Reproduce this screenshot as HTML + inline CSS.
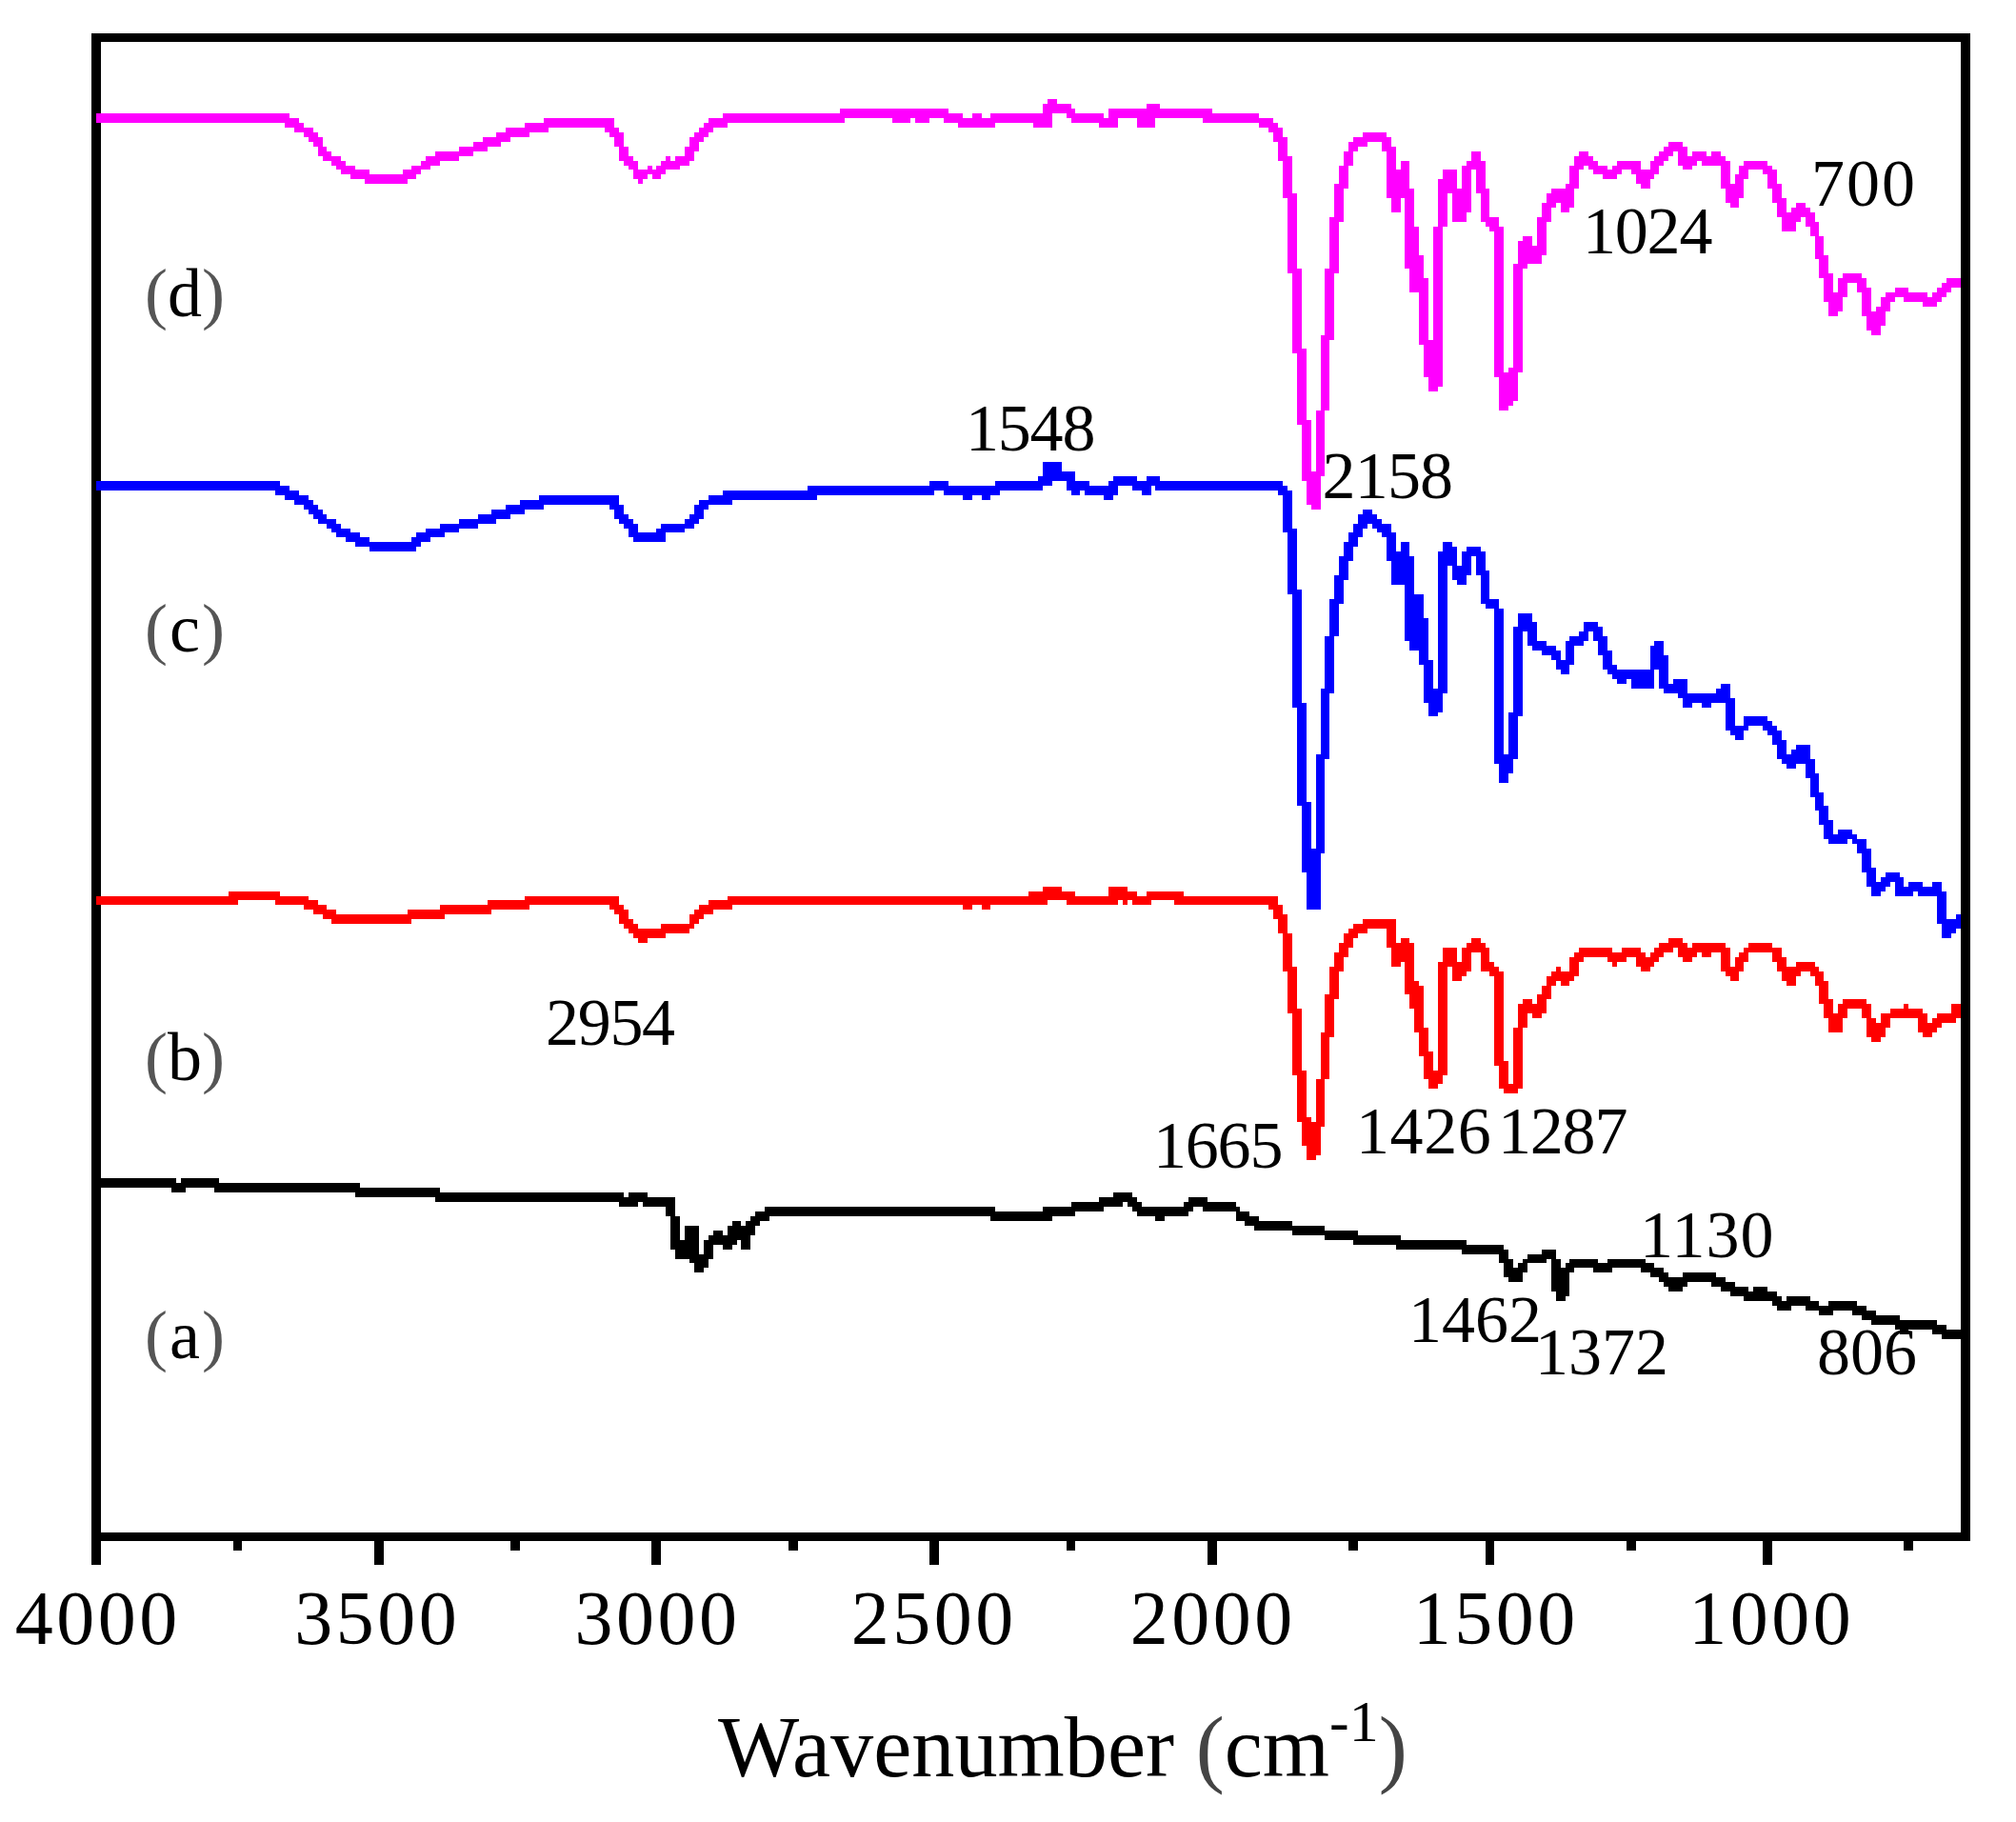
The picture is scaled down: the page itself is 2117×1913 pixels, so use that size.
<!DOCTYPE html>
<html><head><meta charset="utf-8"><title>FTIR spectra</title>
<style>
html,body{margin:0;padding:0;background:#fff}
body{width:2117px;height:1913px;overflow:hidden}
svg{display:block}
text{font-family:"Liberation Serif","DejaVu Serif",serif;fill:#000}
</style></head><body>
<svg width="2117" height="1913" viewBox="0 0 2117 1913">
<rect width="2117" height="1913" fill="#fff"/>
<g shape-rendering="crispEdges">
<path fill="#000" d="M96.2 34.8H105.8V1642.5H96.2ZM96.2 34.8H2068.5V44.3H96.2ZM2058.8 34.8H2068.5V1618.0H2058.8ZM96.2 1608.5H2068.5V1618.0H96.2ZM393.0 1610.0H402.5V1642.5H393.0ZM684.0 1610.0H694.0V1642.5H684.0ZM976.0 1610.0H986.0V1642.5H976.0ZM1267.5 1610.0H1277.5V1642.5H1267.5ZM1559.5 1610.0H1569.0V1642.5H1559.5ZM1851.0 1610.0H1861.0V1642.5H1851.0ZM244.5 1610.0H254.0V1628.0H244.5ZM536.0 1610.0H546.0V1628.0H536.0ZM828.0 1610.0H837.5V1628.0H828.0ZM1119.5 1610.0H1129.0V1628.0H1119.5ZM1415.8 1610.0H1425.8V1628.0H1415.8ZM1707.5 1610.0H1717.5V1628.0H1707.5ZM1999.0 1610.0H2009.0V1628.0H1999.0Z"/>
<path fill="#000" d="M101.2 1237.4H106.1V1247.3H101.2ZM106.1 1237.4H111.1V1247.3H106.1ZM111.1 1237.4H116.0V1247.3H111.1ZM116.0 1237.4H121.0V1247.3H116.0ZM121.0 1237.4H125.9V1247.3H121.0ZM125.9 1237.4H130.9V1247.3H125.9ZM130.9 1237.4H135.8V1247.3H130.9ZM135.8 1237.4H140.7V1247.3H135.8ZM140.7 1237.4H145.7V1247.3H140.7ZM145.7 1237.4H150.6V1247.3H145.7ZM150.6 1237.4H155.6V1247.3H150.6ZM155.6 1237.4H160.5V1247.3H155.6ZM160.5 1237.4H165.5V1247.3H160.5ZM165.5 1237.4H170.4V1247.3H165.5ZM170.4 1237.4H175.3V1247.3H170.4ZM175.3 1237.4H180.3V1247.3H175.3ZM180.3 1237.4H185.2V1252.2H180.3ZM185.2 1242.3H190.2V1252.2H185.2ZM190.2 1237.4H195.1V1252.2H190.2ZM195.1 1237.4H200.1V1247.3H195.1ZM200.1 1237.4H205.0V1247.3H200.1ZM205.0 1237.4H209.9V1247.3H205.0ZM209.9 1237.4H214.9V1247.3H209.9ZM214.9 1237.4H219.8V1247.3H214.9ZM219.8 1237.4H224.8V1247.3H219.8ZM224.8 1237.4H229.7V1252.2H224.8ZM229.7 1242.3H234.7V1252.2H229.7ZM234.7 1242.3H239.6V1252.2H234.7ZM239.6 1242.3H244.6V1252.2H239.6ZM244.6 1242.3H249.5V1252.2H244.6ZM249.5 1242.3H254.4V1252.2H249.5ZM254.4 1242.3H259.4V1252.2H254.4ZM259.4 1242.3H264.3V1252.2H259.4ZM264.3 1242.3H269.3V1252.2H264.3ZM269.3 1242.3H274.2V1252.2H269.3ZM274.2 1242.3H279.2V1252.2H274.2ZM279.2 1242.3H284.1V1252.2H279.2ZM284.1 1242.3H289.0V1252.2H284.1ZM289.0 1242.3H294.0V1252.2H289.0ZM294.0 1242.3H298.9V1252.2H294.0ZM298.9 1242.3H303.9V1252.2H298.9ZM303.9 1242.3H308.8V1252.2H303.9ZM308.8 1242.3H313.8V1252.2H308.8ZM313.8 1242.3H318.7V1252.2H313.8ZM318.7 1242.3H323.6V1252.2H318.7ZM323.6 1242.3H328.6V1252.2H323.6ZM328.6 1242.3H333.5V1252.2H328.6ZM333.5 1242.3H338.5V1252.2H333.5ZM338.5 1242.3H343.4V1252.2H338.5ZM343.4 1242.3H348.4V1252.2H343.4ZM348.4 1242.3H353.3V1252.2H348.4ZM353.3 1242.3H358.2V1252.2H353.3ZM358.2 1242.3H363.2V1252.2H358.2ZM363.2 1242.3H368.1V1252.2H363.2ZM368.1 1242.3H373.1V1252.2H368.1ZM373.1 1242.3H378.0V1257.2H373.1ZM378.0 1247.3H383.0V1257.2H378.0ZM383.0 1247.3H387.9V1257.2H383.0ZM387.9 1247.3H392.9V1257.2H387.9ZM392.9 1247.3H397.8V1257.2H392.9ZM397.8 1247.3H402.7V1257.2H397.8ZM402.7 1247.3H407.7V1257.2H402.7ZM407.7 1247.3H412.6V1257.2H407.7ZM412.6 1247.3H417.6V1257.2H412.6ZM417.6 1247.3H422.5V1257.2H417.6ZM422.5 1247.3H427.5V1257.2H422.5ZM427.5 1247.3H432.4V1257.2H427.5ZM432.4 1247.3H437.3V1257.2H432.4ZM437.3 1247.3H442.3V1257.2H437.3ZM442.3 1247.3H447.2V1257.2H442.3ZM447.2 1247.3H452.2V1257.2H447.2ZM452.2 1247.3H457.1V1257.2H452.2ZM457.1 1247.3H462.1V1262.1H457.1ZM462.1 1252.2H467.0V1262.1H462.1ZM467.0 1252.2H471.9V1262.1H467.0ZM471.9 1252.2H476.9V1262.1H471.9ZM476.9 1252.2H481.8V1262.1H476.9ZM481.8 1252.2H486.8V1262.1H481.8ZM486.8 1252.2H491.7V1262.1H486.8ZM491.7 1252.2H496.7V1262.1H491.7ZM496.7 1252.2H501.6V1262.1H496.7ZM501.6 1252.2H506.5V1262.1H501.6ZM506.5 1252.2H511.5V1262.1H506.5ZM511.5 1252.2H516.4V1262.1H511.5ZM516.4 1252.2H521.4V1262.1H516.4ZM521.4 1252.2H526.3V1262.1H521.4ZM526.3 1252.2H531.3V1262.1H526.3ZM531.3 1252.2H536.2V1262.1H531.3ZM536.2 1252.2H541.1V1262.1H536.2ZM541.1 1252.2H546.1V1262.1H541.1ZM546.1 1252.2H551.0V1262.1H546.1ZM551.0 1252.2H556.0V1262.1H551.0ZM556.0 1252.2H560.9V1262.1H556.0ZM560.9 1252.2H565.9V1262.1H560.9ZM565.9 1252.2H570.8V1262.1H565.9ZM570.8 1252.2H575.8V1262.1H570.8ZM575.8 1252.2H580.7V1262.1H575.8ZM580.7 1252.2H585.6V1262.1H580.7ZM585.6 1252.2H590.6V1262.1H585.6ZM590.6 1252.2H595.5V1262.1H590.6ZM595.5 1252.2H600.5V1262.1H595.5ZM600.5 1252.2H605.4V1262.1H600.5ZM605.4 1252.2H610.4V1262.1H605.4ZM610.4 1252.2H615.3V1262.1H610.4ZM615.3 1252.2H620.2V1262.1H615.3ZM620.2 1252.2H625.2V1262.1H620.2ZM625.2 1252.2H630.1V1262.1H625.2ZM630.1 1252.2H635.1V1262.1H630.1ZM635.1 1252.2H640.0V1262.1H635.1ZM640.0 1252.2H645.0V1262.1H640.0ZM645.0 1252.2H649.9V1262.1H645.0ZM649.9 1252.2H654.8V1267.1H649.9ZM654.8 1257.2H659.8V1267.1H654.8ZM659.8 1252.2H664.7V1267.1H659.8ZM664.7 1252.2H669.7V1267.1H664.7ZM669.7 1252.2H674.6V1262.1H669.7ZM674.6 1252.2H679.6V1267.1H674.6ZM679.6 1257.2H684.5V1267.1H679.6ZM684.5 1257.2H689.4V1267.1H684.5ZM689.4 1257.2H694.4V1267.1H689.4ZM694.4 1257.2H699.3V1267.1H694.4ZM699.3 1257.2H704.3V1276.9H699.3ZM704.3 1257.2H709.2V1311.6H704.3ZM709.2 1276.9H714.2V1321.5H709.2ZM714.2 1301.7H719.1V1321.5H714.2ZM719.1 1286.8H724.1V1321.5H719.1ZM724.1 1286.8H729.0V1326.4H724.1ZM729.0 1286.8H733.9V1336.3H729.0ZM733.9 1316.5H738.9V1336.3H733.9ZM738.9 1301.7H743.8V1331.4H738.9ZM743.8 1296.7H748.8V1321.5H743.8ZM748.8 1291.8H753.7V1306.6H748.8ZM753.7 1291.8H758.7V1306.6H753.7ZM758.7 1296.7H763.6V1311.6H758.7ZM763.6 1286.8H768.5V1311.6H763.6ZM768.5 1281.9H773.5V1306.6H768.5ZM773.5 1281.9H778.4V1301.7H773.5ZM778.4 1286.8H783.4V1311.6H778.4ZM783.4 1281.9H788.3V1311.6H783.4ZM788.3 1276.9H793.3V1296.7H788.3ZM793.3 1272.0H798.2V1286.8H793.3ZM798.2 1272.0H803.1V1281.9H798.2ZM803.1 1267.1H808.1V1281.9H803.1ZM808.1 1267.1H813.0V1276.9H808.1ZM813.0 1267.1H818.0V1276.9H813.0ZM818.0 1267.1H822.9V1276.9H818.0ZM822.9 1267.1H827.9V1276.9H822.9ZM827.9 1267.1H832.8V1276.9H827.9ZM832.8 1267.1H837.7V1276.9H832.8ZM837.7 1267.1H842.7V1276.9H837.7ZM842.7 1267.1H847.6V1276.9H842.7ZM847.6 1267.1H852.6V1276.9H847.6ZM852.6 1267.1H857.5V1276.9H852.6ZM857.5 1267.1H862.5V1276.9H857.5ZM862.5 1267.1H867.4V1276.9H862.5ZM867.4 1267.1H872.4V1276.9H867.4ZM872.4 1267.1H877.3V1276.9H872.4ZM877.3 1267.1H882.2V1276.9H877.3ZM882.2 1267.1H887.2V1276.9H882.2ZM887.2 1267.1H892.1V1276.9H887.2ZM892.1 1267.1H897.1V1276.9H892.1ZM897.1 1267.1H902.0V1276.9H897.1ZM902.0 1267.1H907.0V1276.9H902.0ZM907.0 1267.1H911.9V1276.9H907.0ZM911.9 1267.1H916.8V1276.9H911.9ZM916.8 1267.1H921.8V1276.9H916.8ZM921.8 1267.1H926.7V1276.9H921.8ZM926.7 1267.1H931.7V1276.9H926.7ZM931.7 1267.1H936.6V1276.9H931.7ZM936.6 1267.1H941.6V1276.9H936.6ZM941.6 1267.1H946.5V1276.9H941.6ZM946.5 1267.1H951.4V1276.9H946.5ZM951.4 1267.1H956.4V1276.9H951.4ZM956.4 1267.1H961.3V1276.9H956.4ZM961.3 1267.1H966.3V1276.9H961.3ZM966.3 1267.1H971.2V1276.9H966.3ZM971.2 1267.1H976.2V1276.9H971.2ZM976.2 1267.1H981.1V1276.9H976.2ZM981.1 1267.1H986.0V1276.9H981.1ZM986.0 1267.1H991.0V1276.9H986.0ZM991.0 1267.1H995.9V1276.9H991.0ZM995.9 1267.1H1000.9V1276.9H995.9ZM1000.9 1267.1H1005.8V1276.9H1000.9ZM1005.8 1267.1H1010.8V1276.9H1005.8ZM1010.8 1267.1H1015.7V1276.9H1010.8ZM1015.7 1267.1H1020.6V1276.9H1015.7ZM1020.6 1267.1H1025.6V1276.9H1020.6ZM1025.6 1267.1H1030.5V1276.9H1025.6ZM1030.5 1267.1H1035.5V1276.9H1030.5ZM1035.5 1267.1H1040.4V1276.9H1035.5ZM1040.4 1267.1H1045.4V1281.9H1040.4ZM1045.4 1272.0H1050.3V1281.9H1045.4ZM1050.3 1272.0H1055.3V1281.9H1050.3ZM1055.3 1272.0H1060.2V1281.9H1055.3ZM1060.2 1272.0H1065.1V1281.9H1060.2ZM1065.1 1272.0H1070.1V1281.9H1065.1ZM1070.1 1272.0H1075.0V1281.9H1070.1ZM1075.0 1272.0H1080.0V1281.9H1075.0ZM1080.0 1272.0H1084.9V1281.9H1080.0ZM1084.9 1272.0H1089.9V1281.9H1084.9ZM1089.9 1272.0H1094.8V1281.9H1089.9ZM1094.8 1267.1H1099.7V1281.9H1094.8ZM1099.7 1267.1H1104.7V1281.9H1099.7ZM1104.7 1267.1H1109.6V1276.9H1104.7ZM1109.6 1267.1H1114.6V1276.9H1109.6ZM1114.6 1267.1H1119.5V1276.9H1114.6ZM1119.5 1267.1H1124.5V1276.9H1119.5ZM1124.5 1262.1H1129.4V1276.9H1124.5ZM1129.4 1262.1H1134.3V1272.0H1129.4ZM1134.3 1262.1H1139.3V1272.0H1134.3ZM1139.3 1262.1H1144.2V1272.0H1139.3ZM1144.2 1262.1H1149.2V1272.0H1144.2ZM1149.2 1262.1H1154.1V1272.0H1149.2ZM1154.1 1257.2H1159.1V1272.0H1154.1ZM1159.1 1257.2H1164.0V1267.1H1159.1ZM1164.0 1257.2H1168.9V1267.1H1164.0ZM1168.9 1252.2H1173.9V1267.1H1168.9ZM1173.9 1252.2H1178.8V1267.1H1173.9ZM1178.8 1252.2H1183.8V1262.1H1178.8ZM1183.8 1252.2H1188.7V1267.1H1183.8ZM1188.7 1257.2H1193.7V1272.0H1188.7ZM1193.7 1262.1H1198.6V1276.9H1193.7ZM1198.6 1267.1H1203.6V1276.9H1198.6ZM1203.6 1267.1H1208.5V1276.9H1203.6ZM1208.5 1267.1H1213.4V1276.9H1208.5ZM1213.4 1267.1H1218.4V1281.9H1213.4ZM1218.4 1267.1H1223.3V1281.9H1218.4ZM1223.3 1267.1H1228.3V1276.9H1223.3ZM1228.3 1267.1H1233.2V1276.9H1228.3ZM1233.2 1267.1H1238.2V1276.9H1233.2ZM1238.2 1267.1H1243.1V1276.9H1238.2ZM1243.1 1262.1H1248.0V1276.9H1243.1ZM1248.0 1257.2H1253.0V1272.0H1248.0ZM1253.0 1257.2H1257.9V1267.1H1253.0ZM1257.9 1257.2H1262.9V1267.1H1257.9ZM1262.9 1257.2H1267.8V1272.0H1262.9ZM1267.8 1262.1H1272.8V1272.0H1267.8ZM1272.8 1262.1H1277.7V1272.0H1272.8ZM1277.7 1262.1H1282.6V1272.0H1277.7ZM1282.6 1262.1H1287.6V1272.0H1282.6ZM1287.6 1262.1H1292.5V1272.0H1287.6ZM1292.5 1262.1H1297.5V1272.0H1292.5ZM1297.5 1267.1H1302.4V1281.9H1297.5ZM1302.4 1272.0H1307.4V1281.9H1302.4ZM1307.4 1272.0H1312.3V1286.8H1307.4ZM1312.3 1276.9H1317.2V1286.8H1312.3ZM1317.2 1276.9H1322.2V1291.8H1317.2ZM1322.2 1281.9H1327.1V1291.8H1322.2ZM1327.1 1281.9H1332.1V1291.8H1327.1ZM1332.1 1281.9H1337.0V1291.8H1332.1ZM1337.0 1281.9H1342.0V1291.8H1337.0ZM1342.0 1281.9H1346.9V1291.8H1342.0ZM1346.9 1281.9H1351.9V1291.8H1346.9ZM1351.9 1281.9H1356.8V1291.8H1351.9ZM1356.8 1286.8H1361.7V1296.7H1356.8ZM1361.7 1286.8H1366.7V1296.7H1361.7ZM1366.7 1286.8H1371.6V1296.7H1366.7ZM1371.6 1286.8H1376.6V1296.7H1371.6ZM1376.6 1286.8H1381.5V1296.7H1376.6ZM1381.5 1286.8H1386.5V1296.7H1381.5ZM1386.5 1286.8H1391.4V1296.7H1386.5ZM1391.4 1291.8H1396.3V1301.7H1391.4ZM1396.3 1291.8H1401.3V1301.7H1396.3ZM1401.3 1291.8H1406.2V1301.7H1401.3ZM1406.2 1291.8H1411.2V1301.7H1406.2ZM1411.2 1291.8H1416.1V1301.7H1411.2ZM1416.1 1291.8H1421.1V1301.7H1416.1ZM1421.1 1291.8H1426.0V1306.6H1421.1ZM1426.0 1296.7H1430.9V1306.6H1426.0ZM1430.9 1296.7H1435.9V1306.6H1430.9ZM1435.9 1296.7H1440.8V1306.6H1435.9ZM1440.8 1296.7H1445.8V1306.6H1440.8ZM1445.8 1296.7H1450.7V1306.6H1445.8ZM1450.7 1296.7H1455.7V1306.6H1450.7ZM1455.7 1296.7H1460.6V1306.6H1455.7ZM1460.6 1296.7H1465.5V1306.6H1460.6ZM1465.5 1296.7H1470.5V1311.6H1465.5ZM1470.5 1301.7H1475.4V1311.6H1470.5ZM1475.4 1301.7H1480.4V1311.6H1475.4ZM1480.4 1301.7H1485.3V1311.6H1480.4ZM1485.3 1301.7H1490.3V1311.6H1485.3ZM1490.3 1301.7H1495.2V1311.6H1490.3ZM1495.2 1301.7H1500.1V1311.6H1495.2ZM1500.1 1301.7H1505.1V1311.6H1500.1ZM1505.1 1301.7H1510.0V1311.6H1505.1ZM1510.0 1301.7H1515.0V1311.6H1510.0ZM1515.0 1301.7H1519.9V1311.6H1515.0ZM1519.9 1301.7H1524.9V1311.6H1519.9ZM1524.9 1301.7H1529.8V1311.6H1524.9ZM1529.8 1301.7H1534.8V1311.6H1529.8ZM1534.8 1301.7H1539.7V1316.5H1534.8ZM1539.7 1306.6H1544.6V1316.5H1539.7ZM1544.6 1306.6H1549.6V1316.5H1544.6ZM1549.6 1306.6H1554.5V1316.5H1549.6ZM1554.5 1306.6H1559.5V1316.5H1554.5ZM1559.5 1306.6H1564.4V1316.5H1559.5ZM1564.4 1306.6H1569.4V1316.5H1564.4ZM1569.4 1306.6H1574.3V1316.5H1569.4ZM1574.3 1306.6H1579.2V1326.4H1574.3ZM1579.2 1311.6H1584.2V1341.3H1579.2ZM1584.2 1321.5H1589.1V1346.2H1584.2ZM1589.1 1331.4H1594.1V1346.2H1589.1ZM1594.1 1326.4H1599.0V1346.2H1594.1ZM1599.0 1321.5H1604.0V1336.3H1599.0ZM1604.0 1316.5H1608.9V1326.4H1604.0ZM1608.9 1316.5H1613.8V1326.4H1608.9ZM1613.8 1316.5H1618.8V1326.4H1613.8ZM1618.8 1311.6H1623.7V1326.4H1618.8ZM1623.7 1311.6H1628.7V1321.5H1623.7ZM1628.7 1311.6H1633.6V1356.1H1628.7ZM1633.6 1321.5H1638.6V1366.0H1633.6ZM1638.6 1331.4H1643.5V1366.0H1638.6ZM1643.5 1326.4H1648.4V1361.1H1643.5ZM1648.4 1321.5H1653.4V1336.3H1648.4ZM1653.4 1321.5H1658.3V1331.4H1653.4ZM1658.3 1321.5H1663.3V1331.4H1658.3ZM1663.3 1321.5H1668.2V1331.4H1663.3ZM1668.2 1321.5H1673.2V1331.4H1668.2ZM1673.2 1321.5H1678.1V1336.3H1673.2ZM1678.1 1326.4H1683.1V1336.3H1678.1ZM1683.1 1326.4H1688.0V1336.3H1683.1ZM1688.0 1321.5H1692.9V1336.3H1688.0ZM1692.9 1321.5H1697.9V1331.4H1692.9ZM1697.9 1321.5H1702.8V1331.4H1697.9ZM1702.8 1321.5H1707.8V1331.4H1702.8ZM1707.8 1321.5H1712.7V1331.4H1707.8ZM1712.7 1321.5H1717.7V1331.4H1712.7ZM1717.7 1321.5H1722.6V1331.4H1717.7ZM1722.6 1321.5H1727.5V1336.3H1722.6ZM1727.5 1326.4H1732.5V1336.3H1727.5ZM1732.5 1326.4H1737.4V1341.3H1732.5ZM1737.4 1331.4H1742.4V1341.3H1737.4ZM1742.4 1331.4H1747.3V1346.2H1742.4ZM1747.3 1336.3H1752.3V1351.2H1747.3ZM1752.3 1341.3H1757.2V1356.1H1752.3ZM1757.2 1341.3H1762.1V1356.1H1757.2ZM1762.1 1341.3H1767.1V1356.1H1762.1ZM1767.1 1336.3H1772.0V1351.2H1767.1ZM1772.0 1336.3H1777.0V1346.2H1772.0ZM1777.0 1336.3H1781.9V1346.2H1777.0ZM1781.9 1336.3H1786.9V1346.2H1781.9ZM1786.9 1336.3H1791.8V1346.2H1786.9ZM1791.8 1336.3H1796.7V1346.2H1791.8ZM1796.7 1336.3H1801.7V1351.2H1796.7ZM1801.7 1341.3H1806.6V1351.2H1801.7ZM1806.6 1341.3H1811.6V1356.1H1806.6ZM1811.6 1346.2H1816.5V1356.1H1811.6ZM1816.5 1346.2H1821.5V1361.1H1816.5ZM1821.5 1351.2H1826.4V1361.1H1821.5ZM1826.4 1351.2H1831.4V1361.1H1826.4ZM1831.4 1351.2H1836.3V1366.0H1831.4ZM1836.3 1356.1H1841.2V1366.0H1836.3ZM1841.2 1351.2H1846.2V1366.0H1841.2ZM1846.2 1351.2H1851.1V1366.0H1846.2ZM1851.1 1351.2H1856.1V1366.0H1851.1ZM1856.1 1356.1H1861.0V1366.0H1856.1ZM1861.0 1356.1H1866.0V1371.0H1861.0ZM1866.0 1361.1H1870.9V1375.9H1866.0ZM1870.9 1366.0H1875.8V1375.9H1870.9ZM1875.8 1361.1H1880.8V1375.9H1875.8ZM1880.8 1361.1H1885.7V1371.0H1880.8ZM1885.7 1361.1H1890.7V1371.0H1885.7ZM1890.7 1361.1H1895.6V1371.0H1890.7ZM1895.6 1361.1H1900.6V1375.9H1895.6ZM1900.6 1366.0H1905.5V1375.9H1900.6ZM1905.5 1366.0H1910.4V1375.9H1905.5ZM1910.4 1371.0H1915.4V1380.9H1910.4ZM1915.4 1371.0H1920.3V1380.9H1915.4ZM1920.3 1366.0H1925.3V1380.9H1920.3ZM1925.3 1366.0H1930.2V1375.9H1925.3ZM1930.2 1366.0H1935.2V1375.9H1930.2ZM1935.2 1366.0H1940.1V1375.9H1935.2ZM1940.1 1366.0H1945.0V1375.9H1940.1ZM1945.0 1366.0H1950.0V1380.9H1945.0ZM1950.0 1371.0H1954.9V1380.9H1950.0ZM1954.9 1371.0H1959.9V1385.8H1954.9ZM1959.9 1375.9H1964.8V1385.8H1959.9ZM1964.8 1375.9H1969.8V1390.8H1964.8ZM1969.8 1380.9H1974.7V1390.8H1969.8ZM1974.7 1380.9H1979.6V1390.8H1974.7ZM1979.6 1380.9H1984.6V1390.8H1979.6ZM1984.6 1380.9H1989.5V1390.8H1984.6ZM1989.5 1380.9H1994.5V1395.7H1989.5ZM1994.5 1385.8H1999.4V1400.7H1994.5ZM1999.4 1385.8H2004.4V1400.7H1999.4ZM2004.4 1385.8H2009.3V1395.7H2004.4ZM2009.3 1385.8H2014.3V1395.7H2009.3ZM2014.3 1385.8H2019.2V1395.7H2014.3ZM2019.2 1385.8H2024.1V1395.7H2019.2ZM2024.1 1385.8H2029.1V1395.7H2024.1ZM2029.1 1385.8H2034.0V1400.7H2029.1ZM2034.0 1390.8H2039.0V1400.7H2034.0ZM2039.0 1390.8H2043.9V1405.6H2039.0ZM2043.9 1395.7H2048.9V1405.6H2043.9ZM2048.9 1395.7H2053.8V1405.6H2048.9ZM2053.8 1395.7H2058.7V1405.6H2053.8ZM2058.7 1395.7H2058.8V1405.6H2058.7Z"/>
<path fill="#f00" d="M101.2 940.5H106.1V950.4H101.2ZM106.1 940.5H111.1V950.4H106.1ZM111.1 940.5H116.0V950.4H111.1ZM116.0 940.5H121.0V950.4H116.0ZM121.0 940.5H125.9V950.4H121.0ZM125.9 940.5H130.9V950.4H125.9ZM130.9 940.5H135.8V950.4H130.9ZM135.8 940.5H140.7V950.4H135.8ZM140.7 940.5H145.7V950.4H140.7ZM145.7 940.5H150.6V950.4H145.7ZM150.6 940.5H155.6V950.4H150.6ZM155.6 940.5H160.5V950.4H155.6ZM160.5 940.5H165.5V950.4H160.5ZM165.5 940.5H170.4V950.4H165.5ZM170.4 940.5H175.3V950.4H170.4ZM175.3 940.5H180.3V950.4H175.3ZM180.3 940.5H185.2V950.4H180.3ZM185.2 940.5H190.2V950.4H185.2ZM190.2 940.5H195.1V950.4H190.2ZM195.1 940.5H200.1V950.4H195.1ZM200.1 940.5H205.0V950.4H200.1ZM205.0 940.5H209.9V950.4H205.0ZM209.9 940.5H214.9V950.4H209.9ZM214.9 940.5H219.8V950.4H214.9ZM219.8 940.5H224.8V950.4H219.8ZM224.8 940.5H229.7V950.4H224.8ZM229.7 940.5H234.7V950.4H229.7ZM234.7 940.5H239.6V950.4H234.7ZM239.6 935.5H244.6V950.4H239.6ZM244.6 935.5H249.5V950.4H244.6ZM249.5 935.5H254.4V945.4H249.5ZM254.4 935.5H259.4V945.4H254.4ZM259.4 935.5H264.3V945.4H259.4ZM264.3 935.5H269.3V945.4H264.3ZM269.3 935.5H274.2V945.4H269.3ZM274.2 935.5H279.2V945.4H274.2ZM279.2 935.5H284.1V945.4H279.2ZM284.1 935.5H289.0V945.4H284.1ZM289.0 935.5H294.0V950.4H289.0ZM294.0 940.5H298.9V950.4H294.0ZM298.9 940.5H303.9V950.4H298.9ZM303.9 940.5H308.8V950.4H303.9ZM308.8 940.5H313.8V950.4H308.8ZM313.8 940.5H318.7V950.4H313.8ZM318.7 940.5H323.6V955.3H318.7ZM323.6 945.4H328.6V955.3H323.6ZM328.6 945.4H333.5V960.2H328.6ZM333.5 950.4H338.5V960.2H333.5ZM338.5 950.4H343.4V965.2H338.5ZM343.4 955.3H348.4V965.2H343.4ZM348.4 955.3H353.3V970.1H348.4ZM353.3 960.2H358.2V970.1H353.3ZM358.2 960.2H363.2V970.1H358.2ZM363.2 960.2H368.1V970.1H363.2ZM368.1 960.2H373.1V970.1H368.1ZM373.1 960.2H378.0V970.1H373.1ZM378.0 960.2H383.0V970.1H378.0ZM383.0 960.2H387.9V970.1H383.0ZM387.9 960.2H392.9V970.1H387.9ZM392.9 960.2H397.8V970.1H392.9ZM397.8 960.2H402.7V970.1H397.8ZM402.7 960.2H407.7V970.1H402.7ZM407.7 960.2H412.6V970.1H407.7ZM412.6 960.2H417.6V970.1H412.6ZM417.6 960.2H422.5V970.1H417.6ZM422.5 960.2H427.5V970.1H422.5ZM427.5 955.3H432.4V970.1H427.5ZM432.4 955.3H437.3V965.2H432.4ZM437.3 955.3H442.3V965.2H437.3ZM442.3 955.3H447.2V965.2H442.3ZM447.2 955.3H452.2V965.2H447.2ZM452.2 955.3H457.1V965.2H452.2ZM457.1 955.3H462.1V965.2H457.1ZM462.1 950.4H467.0V965.2H462.1ZM467.0 950.4H471.9V960.2H467.0ZM471.9 950.4H476.9V960.2H471.9ZM476.9 950.4H481.8V960.2H476.9ZM481.8 950.4H486.8V960.2H481.8ZM486.8 950.4H491.7V960.2H486.8ZM491.7 950.4H496.7V960.2H491.7ZM496.7 950.4H501.6V960.2H496.7ZM501.6 950.4H506.5V960.2H501.6ZM506.5 950.4H511.5V960.2H506.5ZM511.5 945.4H516.4V960.2H511.5ZM516.4 945.4H521.4V955.3H516.4ZM521.4 945.4H526.3V955.3H521.4ZM526.3 945.4H531.3V955.3H526.3ZM531.3 945.4H536.2V955.3H531.3ZM536.2 945.4H541.1V955.3H536.2ZM541.1 945.4H546.1V955.3H541.1ZM546.1 945.4H551.0V955.3H546.1ZM551.0 940.5H556.0V955.3H551.0ZM556.0 940.5H560.9V950.4H556.0ZM560.9 940.5H565.9V950.4H560.9ZM565.9 940.5H570.8V950.4H565.9ZM570.8 940.5H575.8V950.4H570.8ZM575.8 940.5H580.7V950.4H575.8ZM580.7 940.5H585.6V950.4H580.7ZM585.6 940.5H590.6V950.4H585.6ZM590.6 940.5H595.5V950.4H590.6ZM595.5 940.5H600.5V950.4H595.5ZM600.5 940.5H605.4V950.4H600.5ZM605.4 940.5H610.4V950.4H605.4ZM610.4 940.5H615.3V950.4H610.4ZM615.3 940.5H620.2V950.4H615.3ZM620.2 940.5H625.2V950.4H620.2ZM625.2 940.5H630.1V950.4H625.2ZM630.1 940.5H635.1V950.4H630.1ZM635.1 940.5H640.0V950.4H635.1ZM640.0 940.5H645.0V955.3H640.0ZM645.0 940.5H649.9V960.2H645.0ZM649.9 950.4H654.8V970.1H649.9ZM654.8 955.3H659.8V975.1H654.8ZM659.8 965.2H664.7V980.0H659.8ZM664.7 970.1H669.7V985.0H664.7ZM669.7 975.1H674.6V989.9H669.7ZM674.6 975.1H679.6V989.9H674.6ZM679.6 975.1H684.5V985.0H679.6ZM684.5 975.1H689.4V985.0H684.5ZM689.4 975.1H694.4V985.0H689.4ZM694.4 970.1H699.3V985.0H694.4ZM699.3 970.1H704.3V980.0H699.3ZM704.3 970.1H709.2V980.0H704.3ZM709.2 970.1H714.2V980.0H709.2ZM714.2 970.1H719.1V980.0H714.2ZM719.1 970.1H724.1V980.0H719.1ZM724.1 960.2H729.0V975.1H724.1ZM729.0 955.3H733.9V970.1H729.0ZM733.9 950.4H738.9V965.2H733.9ZM738.9 950.4H743.8V960.2H738.9ZM743.8 945.4H748.8V960.2H743.8ZM748.8 945.4H753.7V955.3H748.8ZM753.7 945.4H758.7V955.3H753.7ZM758.7 945.4H763.6V955.3H758.7ZM763.6 940.5H768.5V955.3H763.6ZM768.5 940.5H773.5V950.4H768.5ZM773.5 940.5H778.4V950.4H773.5ZM778.4 940.5H783.4V950.4H778.4ZM783.4 940.5H788.3V950.4H783.4ZM788.3 940.5H793.3V950.4H788.3ZM793.3 940.5H798.2V950.4H793.3ZM798.2 940.5H803.1V950.4H798.2ZM803.1 940.5H808.1V950.4H803.1ZM808.1 940.5H813.0V950.4H808.1ZM813.0 940.5H818.0V950.4H813.0ZM818.0 940.5H822.9V950.4H818.0ZM822.9 940.5H827.9V950.4H822.9ZM827.9 940.5H832.8V950.4H827.9ZM832.8 940.5H837.7V950.4H832.8ZM837.7 940.5H842.7V950.4H837.7ZM842.7 940.5H847.6V950.4H842.7ZM847.6 940.5H852.6V950.4H847.6ZM852.6 940.5H857.5V950.4H852.6ZM857.5 940.5H862.5V950.4H857.5ZM862.5 940.5H867.4V950.4H862.5ZM867.4 940.5H872.4V950.4H867.4ZM872.4 940.5H877.3V950.4H872.4ZM877.3 940.5H882.2V950.4H877.3ZM882.2 940.5H887.2V950.4H882.2ZM887.2 940.5H892.1V950.4H887.2ZM892.1 940.5H897.1V950.4H892.1ZM897.1 940.5H902.0V950.4H897.1ZM902.0 940.5H907.0V950.4H902.0ZM907.0 940.5H911.9V950.4H907.0ZM911.9 940.5H916.8V950.4H911.9ZM916.8 940.5H921.8V950.4H916.8ZM921.8 940.5H926.7V950.4H921.8ZM926.7 940.5H931.7V950.4H926.7ZM931.7 940.5H936.6V950.4H931.7ZM936.6 940.5H941.6V950.4H936.6ZM941.6 940.5H946.5V950.4H941.6ZM946.5 940.5H951.4V950.4H946.5ZM951.4 940.5H956.4V950.4H951.4ZM956.4 940.5H961.3V950.4H956.4ZM961.3 940.5H966.3V950.4H961.3ZM966.3 940.5H971.2V950.4H966.3ZM971.2 940.5H976.2V950.4H971.2ZM976.2 940.5H981.1V950.4H976.2ZM981.1 940.5H986.0V950.4H981.1ZM986.0 940.5H991.0V950.4H986.0ZM991.0 940.5H995.9V950.4H991.0ZM995.9 940.5H1000.9V950.4H995.9ZM1000.9 940.5H1005.8V950.4H1000.9ZM1005.8 940.5H1010.8V950.4H1005.8ZM1010.8 940.5H1015.7V955.3H1010.8ZM1015.7 940.5H1020.6V955.3H1015.7ZM1020.6 940.5H1025.6V950.4H1020.6ZM1025.6 940.5H1030.5V950.4H1025.6ZM1030.5 940.5H1035.5V955.3H1030.5ZM1035.5 940.5H1040.4V955.3H1035.5ZM1040.4 940.5H1045.4V950.4H1040.4ZM1045.4 940.5H1050.3V950.4H1045.4ZM1050.3 940.5H1055.3V950.4H1050.3ZM1055.3 940.5H1060.2V950.4H1055.3ZM1060.2 940.5H1065.1V950.4H1060.2ZM1065.1 940.5H1070.1V950.4H1065.1ZM1070.1 940.5H1075.0V950.4H1070.1ZM1075.0 940.5H1080.0V950.4H1075.0ZM1080.0 935.5H1084.9V950.4H1080.0ZM1084.9 935.5H1089.9V950.4H1084.9ZM1089.9 935.5H1094.8V950.4H1089.9ZM1094.8 930.6H1099.7V950.4H1094.8ZM1099.7 930.6H1104.7V945.4H1099.7ZM1104.7 930.6H1109.6V945.4H1104.7ZM1109.6 930.6H1114.6V945.4H1109.6ZM1114.6 935.5H1119.5V945.4H1114.6ZM1119.5 935.5H1124.5V950.4H1119.5ZM1124.5 935.5H1129.4V950.4H1124.5ZM1129.4 940.5H1134.3V950.4H1129.4ZM1134.3 940.5H1139.3V950.4H1134.3ZM1139.3 940.5H1144.2V950.4H1139.3ZM1144.2 940.5H1149.2V950.4H1144.2ZM1149.2 940.5H1154.1V950.4H1149.2ZM1154.1 940.5H1159.1V950.4H1154.1ZM1159.1 940.5H1164.0V950.4H1159.1ZM1164.0 930.6H1168.9V950.4H1164.0ZM1168.9 930.6H1173.9V950.4H1168.9ZM1173.9 930.6H1178.8V945.4H1173.9ZM1178.8 930.6H1183.8V950.4H1178.8ZM1183.8 935.5H1188.7V945.4H1183.8ZM1188.7 935.5H1193.7V950.4H1188.7ZM1193.7 940.5H1198.6V950.4H1193.7ZM1198.6 940.5H1203.6V950.4H1198.6ZM1203.6 935.5H1208.5V950.4H1203.6ZM1208.5 935.5H1213.4V945.4H1208.5ZM1213.4 935.5H1218.4V945.4H1213.4ZM1218.4 935.5H1223.3V945.4H1218.4ZM1223.3 935.5H1228.3V945.4H1223.3ZM1228.3 935.5H1233.2V945.4H1228.3ZM1233.2 935.5H1238.2V950.4H1233.2ZM1238.2 935.5H1243.1V950.4H1238.2ZM1243.1 940.5H1248.0V950.4H1243.1ZM1248.0 940.5H1253.0V950.4H1248.0ZM1253.0 940.5H1257.9V950.4H1253.0ZM1257.9 940.5H1262.9V950.4H1257.9ZM1262.9 940.5H1267.8V950.4H1262.9ZM1267.8 940.5H1272.8V950.4H1267.8ZM1272.8 940.5H1277.7V950.4H1272.8ZM1277.7 940.5H1282.6V950.4H1277.7ZM1282.6 940.5H1287.6V950.4H1282.6ZM1287.6 940.5H1292.5V950.4H1287.6ZM1292.5 940.5H1297.5V950.4H1292.5ZM1297.5 940.5H1302.4V950.4H1297.5ZM1302.4 940.5H1307.4V950.4H1302.4ZM1307.4 940.5H1312.3V950.4H1307.4ZM1312.3 940.5H1317.2V950.4H1312.3ZM1317.2 940.5H1322.2V950.4H1317.2ZM1322.2 940.5H1327.1V950.4H1322.2ZM1327.1 940.5H1332.1V950.4H1327.1ZM1332.1 940.5H1337.0V955.3H1332.1ZM1337.0 940.5H1342.0V965.2H1337.0ZM1342.0 950.4H1346.9V980.0H1342.0ZM1346.9 960.2H1351.9V1019.6H1346.9ZM1351.9 980.0H1356.8V1064.2H1351.9ZM1356.8 1014.7H1361.7V1128.5H1356.8ZM1361.7 1059.2H1366.7V1178.0H1361.7ZM1366.7 1123.5H1371.6V1202.7H1366.7ZM1371.6 1173.0H1376.6V1217.6H1371.6ZM1376.6 1178.0H1381.5V1217.6H1376.6ZM1381.5 1133.4H1386.5V1212.6H1381.5ZM1386.5 1084.0H1391.4V1182.9H1386.5ZM1391.4 1044.4H1396.3V1133.4H1391.4ZM1396.3 1014.7H1401.3V1088.9H1396.3ZM1401.3 999.8H1406.2V1049.3H1401.3ZM1406.2 989.9H1411.2V1019.6H1406.2ZM1411.2 980.0H1416.1V1004.8H1411.2ZM1416.1 975.1H1421.1V994.9H1416.1ZM1421.1 970.1H1426.0V985.0H1421.1ZM1426.0 970.1H1430.9V980.0H1426.0ZM1430.9 965.2H1435.9V980.0H1430.9ZM1435.9 965.2H1440.8V975.1H1435.9ZM1440.8 965.2H1445.8V975.1H1440.8ZM1445.8 965.2H1450.7V975.1H1445.8ZM1450.7 965.2H1455.7V975.1H1450.7ZM1455.7 965.2H1460.6V994.9H1455.7ZM1460.6 965.2H1465.5V1014.7H1460.6ZM1465.5 989.9H1470.5V1014.7H1465.5ZM1470.5 985.0H1475.4V1009.7H1470.5ZM1475.4 985.0H1480.4V1044.4H1475.4ZM1480.4 989.9H1485.3V1059.2H1480.4ZM1485.3 1029.5H1490.3V1084.0H1485.3ZM1490.3 1034.5H1495.2V1108.7H1490.3ZM1495.2 1079.0H1500.1V1133.4H1495.2ZM1500.1 1103.8H1505.1V1143.3H1500.1ZM1505.1 1123.5H1510.0V1143.3H1505.1ZM1510.0 1009.7H1515.0V1138.4H1510.0ZM1515.0 994.9H1519.9V1128.5H1515.0ZM1519.9 994.9H1524.9V1014.7H1519.9ZM1524.9 994.9H1529.8V1029.5H1524.9ZM1529.8 1009.7H1534.8V1029.5H1529.8ZM1534.8 994.9H1539.7V1024.6H1534.8ZM1539.7 989.9H1544.6V1019.6H1539.7ZM1544.6 985.0H1549.6V999.8H1544.6ZM1549.6 985.0H1554.5V999.8H1549.6ZM1554.5 989.9H1559.5V1019.6H1554.5ZM1559.5 994.9H1564.4V1019.6H1559.5ZM1564.4 1009.7H1569.4V1024.6H1564.4ZM1569.4 1014.7H1574.3V1118.6H1569.4ZM1574.3 1019.6H1579.2V1143.3H1574.3ZM1579.2 1113.7H1584.2V1148.3H1579.2ZM1584.2 1138.4H1589.1V1148.3H1584.2ZM1589.1 1079.0H1594.1V1148.3H1589.1ZM1594.1 1054.3H1599.0V1143.3H1594.1ZM1599.0 1049.3H1604.0V1079.0H1599.0ZM1604.0 1049.3H1608.9V1064.2H1604.0ZM1608.9 1054.3H1613.8V1069.1H1608.9ZM1613.8 1044.4H1618.8V1069.1H1613.8ZM1618.8 1034.5H1623.7V1064.2H1618.8ZM1623.7 1024.6H1628.7V1049.3H1623.7ZM1628.7 1019.6H1633.6V1034.5H1628.7ZM1633.6 1014.7H1638.6V1029.5H1633.6ZM1638.6 1019.6H1643.5V1034.5H1638.6ZM1643.5 1019.6H1648.4V1034.5H1643.5ZM1648.4 1004.8H1653.4V1029.5H1648.4ZM1653.4 999.8H1658.3V1024.6H1653.4ZM1658.3 994.9H1663.3V1009.7H1658.3ZM1663.3 994.9H1668.2V1004.8H1663.3ZM1668.2 994.9H1673.2V1004.8H1668.2ZM1673.2 994.9H1678.1V1004.8H1673.2ZM1678.1 994.9H1683.1V1004.8H1678.1ZM1683.1 994.9H1688.0V1004.8H1683.1ZM1688.0 994.9H1692.9V1009.7H1688.0ZM1692.9 999.8H1697.9V1014.7H1692.9ZM1697.9 999.8H1702.8V1009.7H1697.9ZM1702.8 994.9H1707.8V1009.7H1702.8ZM1707.8 994.9H1712.7V1004.8H1707.8ZM1712.7 994.9H1717.7V1004.8H1712.7ZM1717.7 994.9H1722.6V1014.7H1717.7ZM1722.6 999.8H1727.5V1019.6H1722.6ZM1727.5 1004.8H1732.5V1019.6H1727.5ZM1732.5 999.8H1737.4V1014.7H1732.5ZM1737.4 994.9H1742.4V1009.7H1737.4ZM1742.4 989.9H1747.3V1004.8H1742.4ZM1747.3 989.9H1752.3V999.8H1747.3ZM1752.3 985.0H1757.2V999.8H1752.3ZM1757.2 985.0H1762.1V994.9H1757.2ZM1762.1 985.0H1767.1V1004.8H1762.1ZM1767.1 989.9H1772.0V1009.7H1767.1ZM1772.0 994.9H1777.0V1009.7H1772.0ZM1777.0 989.9H1781.9V1004.8H1777.0ZM1781.9 989.9H1786.9V999.8H1781.9ZM1786.9 989.9H1791.8V1004.8H1786.9ZM1791.8 989.9H1796.7V1004.8H1791.8ZM1796.7 989.9H1801.7V999.8H1796.7ZM1801.7 989.9H1806.6V999.8H1801.7ZM1806.6 989.9H1811.6V1019.6H1806.6ZM1811.6 994.9H1816.5V1024.6H1811.6ZM1816.5 1014.7H1821.5V1029.5H1816.5ZM1821.5 1004.8H1826.4V1029.5H1821.5ZM1826.4 999.8H1831.4V1019.6H1826.4ZM1831.4 994.9H1836.3V1009.7H1831.4ZM1836.3 989.9H1841.2V999.8H1836.3ZM1841.2 989.9H1846.2V999.8H1841.2ZM1846.2 989.9H1851.1V999.8H1846.2ZM1851.1 989.9H1856.1V999.8H1851.1ZM1856.1 989.9H1861.0V999.8H1856.1ZM1861.0 994.9H1866.0V1009.7H1861.0ZM1866.0 994.9H1870.9V1019.6H1866.0ZM1870.9 1004.8H1875.8V1029.5H1870.9ZM1875.8 1014.7H1880.8V1034.5H1875.8ZM1880.8 1014.7H1885.7V1034.5H1880.8ZM1885.7 1009.7H1890.7V1024.6H1885.7ZM1890.7 1009.7H1895.6V1019.6H1890.7ZM1895.6 1009.7H1900.6V1019.6H1895.6ZM1900.6 1009.7H1905.5V1024.6H1900.6ZM1905.5 1014.7H1910.4V1034.5H1905.5ZM1910.4 1019.6H1915.4V1054.3H1910.4ZM1915.4 1029.5H1920.3V1069.1H1915.4ZM1920.3 1049.3H1925.3V1084.0H1920.3ZM1925.3 1064.2H1930.2V1084.0H1925.3ZM1930.2 1054.3H1935.2V1084.0H1930.2ZM1935.2 1049.3H1940.1V1069.1H1935.2ZM1940.1 1049.3H1945.0V1059.2H1940.1ZM1945.0 1049.3H1950.0V1059.2H1945.0ZM1950.0 1049.3H1954.9V1059.2H1950.0ZM1954.9 1049.3H1959.9V1069.1H1954.9ZM1959.9 1054.3H1964.8V1088.9H1959.9ZM1964.8 1069.1H1969.8V1093.9H1964.8ZM1969.8 1074.1H1974.7V1093.9H1969.8ZM1974.7 1064.2H1979.6V1088.9H1974.7ZM1979.6 1064.2H1984.6V1079.0H1979.6ZM1984.6 1059.2H1989.5V1069.1H1984.6ZM1989.5 1059.2H1994.5V1069.1H1989.5ZM1994.5 1059.2H1999.4V1069.1H1994.5ZM1999.4 1054.3H2004.4V1069.1H1999.4ZM2004.4 1059.2H2009.3V1069.1H2004.4ZM2009.3 1059.2H2014.3V1069.1H2009.3ZM2014.3 1059.2H2019.2V1084.0H2014.3ZM2019.2 1064.2H2024.1V1088.9H2019.2ZM2024.1 1074.1H2029.1V1088.9H2024.1ZM2029.1 1069.1H2034.0V1084.0H2029.1ZM2034.0 1064.2H2039.0V1079.0H2034.0ZM2039.0 1064.2H2043.9V1074.1H2039.0ZM2043.9 1064.2H2048.9V1074.1H2043.9ZM2048.9 1054.3H2053.8V1074.1H2048.9ZM2053.8 1054.3H2058.7V1069.1H2053.8ZM2058.7 1054.3H2058.8V1064.2H2058.7Z"/>
<path fill="#00f" d="M101.2 505.0H106.1V514.9H101.2ZM106.1 505.0H111.1V514.9H106.1ZM111.1 505.0H116.0V514.9H111.1ZM116.0 505.0H121.0V514.9H116.0ZM121.0 505.0H125.9V514.9H121.0ZM125.9 505.0H130.9V514.9H125.9ZM130.9 505.0H135.8V514.9H130.9ZM135.8 505.0H140.7V514.9H135.8ZM140.7 505.0H145.7V514.9H140.7ZM145.7 505.0H150.6V514.9H145.7ZM150.6 505.0H155.6V514.9H150.6ZM155.6 505.0H160.5V514.9H155.6ZM160.5 505.0H165.5V514.9H160.5ZM165.5 505.0H170.4V514.9H165.5ZM170.4 505.0H175.3V514.9H170.4ZM175.3 505.0H180.3V514.9H175.3ZM180.3 505.0H185.2V514.9H180.3ZM185.2 505.0H190.2V514.9H185.2ZM190.2 505.0H195.1V514.9H190.2ZM195.1 505.0H200.1V514.9H195.1ZM200.1 505.0H205.0V514.9H200.1ZM205.0 505.0H209.9V514.9H205.0ZM209.9 505.0H214.9V514.9H209.9ZM214.9 505.0H219.8V514.9H214.9ZM219.8 505.0H224.8V514.9H219.8ZM224.8 505.0H229.7V514.9H224.8ZM229.7 505.0H234.7V514.9H229.7ZM234.7 505.0H239.6V514.9H234.7ZM239.6 505.0H244.6V514.9H239.6ZM244.6 505.0H249.5V514.9H244.6ZM249.5 505.0H254.4V514.9H249.5ZM254.4 505.0H259.4V514.9H254.4ZM259.4 505.0H264.3V514.9H259.4ZM264.3 505.0H269.3V514.9H264.3ZM269.3 505.0H274.2V514.9H269.3ZM274.2 505.0H279.2V514.9H274.2ZM279.2 505.0H284.1V514.9H279.2ZM284.1 505.0H289.0V514.9H284.1ZM289.0 505.0H294.0V519.8H289.0ZM294.0 509.9H298.9V519.8H294.0ZM298.9 509.9H303.9V524.8H298.9ZM303.9 514.9H308.8V524.8H303.9ZM308.8 514.9H313.8V529.7H308.8ZM313.8 519.8H318.7V529.7H313.8ZM318.7 519.8H323.6V534.7H318.7ZM323.6 524.8H328.6V539.6H323.6ZM328.6 529.7H333.5V544.6H328.6ZM333.5 534.7H338.5V549.5H333.5ZM338.5 539.6H343.4V549.5H338.5ZM343.4 544.6H348.4V554.5H343.4ZM348.4 544.6H353.3V559.4H348.4ZM353.3 549.5H358.2V564.4H353.3ZM358.2 554.5H363.2V564.4H358.2ZM363.2 554.5H368.1V569.3H363.2ZM368.1 559.4H373.1V569.3H368.1ZM373.1 559.4H378.0V574.3H373.1ZM378.0 564.4H383.0V574.3H378.0ZM383.0 564.4H387.9V574.3H383.0ZM387.9 569.3H392.9V579.2H387.9ZM392.9 569.3H397.8V579.2H392.9ZM397.8 569.3H402.7V579.2H397.8ZM402.7 569.3H407.7V579.2H402.7ZM407.7 569.3H412.6V579.2H407.7ZM412.6 569.3H417.6V579.2H412.6ZM417.6 569.3H422.5V579.2H417.6ZM422.5 569.3H427.5V579.2H422.5ZM427.5 569.3H432.4V579.2H427.5ZM432.4 564.4H437.3V579.2H432.4ZM437.3 559.4H442.3V574.3H437.3ZM442.3 559.4H447.2V569.3H442.3ZM447.2 554.5H452.2V569.3H447.2ZM452.2 554.5H457.1V564.4H452.2ZM457.1 554.5H462.1V564.4H457.1ZM462.1 549.5H467.0V564.4H462.1ZM467.0 549.5H471.9V559.4H467.0ZM471.9 549.5H476.9V559.4H471.9ZM476.9 549.5H481.8V559.4H476.9ZM481.8 544.6H486.8V554.5H481.8ZM486.8 544.6H491.7V554.5H486.8ZM491.7 544.6H496.7V554.5H491.7ZM496.7 544.6H501.6V554.5H496.7ZM501.6 539.6H506.5V549.5H501.6ZM506.5 539.6H511.5V549.5H506.5ZM511.5 539.6H516.4V549.5H511.5ZM516.4 534.7H521.4V549.5H516.4ZM521.4 534.7H526.3V544.6H521.4ZM526.3 534.7H531.3V544.6H526.3ZM531.3 529.7H536.2V544.6H531.3ZM536.2 529.7H541.1V539.6H536.2ZM541.1 529.7H546.1V539.6H541.1ZM546.1 524.8H551.0V539.6H546.1ZM551.0 524.8H556.0V534.7H551.0ZM556.0 524.8H560.9V534.7H556.0ZM560.9 524.8H565.9V534.7H560.9ZM565.9 519.8H570.8V534.7H565.9ZM570.8 519.8H575.8V529.7H570.8ZM575.8 519.8H580.7V529.7H575.8ZM580.7 519.8H585.6V529.7H580.7ZM585.6 519.8H590.6V529.7H585.6ZM590.6 519.8H595.5V529.7H590.6ZM595.5 519.8H600.5V529.7H595.5ZM600.5 519.8H605.4V529.7H600.5ZM605.4 519.8H610.4V529.7H605.4ZM610.4 519.8H615.3V529.7H610.4ZM615.3 519.8H620.2V529.7H615.3ZM620.2 519.8H625.2V529.7H620.2ZM625.2 519.8H630.1V529.7H625.2ZM630.1 519.8H635.1V529.7H630.1ZM635.1 519.8H640.0V529.7H635.1ZM640.0 519.8H645.0V534.7H640.0ZM645.0 519.8H649.9V544.6H645.0ZM649.9 529.7H654.8V549.5H649.9ZM654.8 539.6H659.8V554.5H654.8ZM659.8 544.6H664.7V564.4H659.8ZM664.7 549.5H669.7V569.3H664.7ZM669.7 559.4H674.6V569.3H669.7ZM674.6 559.4H679.6V569.3H674.6ZM679.6 559.4H684.5V569.3H679.6ZM684.5 559.4H689.4V569.3H684.5ZM689.4 554.5H694.4V569.3H689.4ZM694.4 549.5H699.3V569.3H694.4ZM699.3 549.5H704.3V559.4H699.3ZM704.3 549.5H709.2V559.4H704.3ZM709.2 549.5H714.2V559.4H709.2ZM714.2 549.5H719.1V559.4H714.2ZM719.1 544.6H724.1V554.5H719.1ZM724.1 539.6H729.0V554.5H724.1ZM729.0 529.7H733.9V549.5H729.0ZM733.9 524.8H738.9V544.6H733.9ZM738.9 524.8H743.8V534.7H738.9ZM743.8 519.8H748.8V529.7H743.8ZM748.8 519.8H753.7V529.7H748.8ZM753.7 519.8H758.7V529.7H753.7ZM758.7 514.9H763.6V529.7H758.7ZM763.6 514.9H768.5V529.7H763.6ZM768.5 514.9H773.5V524.8H768.5ZM773.5 514.9H778.4V524.8H773.5ZM778.4 514.9H783.4V524.8H778.4ZM783.4 514.9H788.3V524.8H783.4ZM788.3 514.9H793.3V524.8H788.3ZM793.3 514.9H798.2V524.8H793.3ZM798.2 514.9H803.1V524.8H798.2ZM803.1 514.9H808.1V524.8H803.1ZM808.1 514.9H813.0V524.8H808.1ZM813.0 514.9H818.0V524.8H813.0ZM818.0 514.9H822.9V524.8H818.0ZM822.9 514.9H827.9V524.8H822.9ZM827.9 514.9H832.8V524.8H827.9ZM832.8 514.9H837.7V524.8H832.8ZM837.7 514.9H842.7V524.8H837.7ZM842.7 514.9H847.6V524.8H842.7ZM847.6 509.9H852.6V524.8H847.6ZM852.6 509.9H857.5V524.8H852.6ZM857.5 509.9H862.5V519.8H857.5ZM862.5 509.9H867.4V519.8H862.5ZM867.4 509.9H872.4V519.8H867.4ZM872.4 509.9H877.3V519.8H872.4ZM877.3 509.9H882.2V519.8H877.3ZM882.2 509.9H887.2V519.8H882.2ZM887.2 509.9H892.1V519.8H887.2ZM892.1 509.9H897.1V519.8H892.1ZM897.1 509.9H902.0V519.8H897.1ZM902.0 509.9H907.0V519.8H902.0ZM907.0 509.9H911.9V519.8H907.0ZM911.9 509.9H916.8V519.8H911.9ZM916.8 509.9H921.8V519.8H916.8ZM921.8 509.9H926.7V519.8H921.8ZM926.7 509.9H931.7V519.8H926.7ZM931.7 509.9H936.6V519.8H931.7ZM936.6 509.9H941.6V519.8H936.6ZM941.6 509.9H946.5V519.8H941.6ZM946.5 509.9H951.4V519.8H946.5ZM951.4 509.9H956.4V519.8H951.4ZM956.4 509.9H961.3V519.8H956.4ZM961.3 509.9H966.3V519.8H961.3ZM966.3 509.9H971.2V519.8H966.3ZM971.2 509.9H976.2V519.8H971.2ZM976.2 505.0H981.1V519.8H976.2ZM981.1 505.0H986.0V514.9H981.1ZM986.0 505.0H991.0V514.9H986.0ZM991.0 505.0H995.9V519.8H991.0ZM995.9 509.9H1000.9V519.8H995.9ZM1000.9 509.9H1005.8V519.8H1000.9ZM1005.8 509.9H1010.8V519.8H1005.8ZM1010.8 509.9H1015.7V524.8H1010.8ZM1015.7 509.9H1020.6V524.8H1015.7ZM1020.6 509.9H1025.6V519.8H1020.6ZM1025.6 509.9H1030.5V519.8H1025.6ZM1030.5 509.9H1035.5V524.8H1030.5ZM1035.5 509.9H1040.4V524.8H1035.5ZM1040.4 509.9H1045.4V519.8H1040.4ZM1045.4 505.0H1050.3V519.8H1045.4ZM1050.3 505.0H1055.3V514.9H1050.3ZM1055.3 505.0H1060.2V514.9H1055.3ZM1060.2 505.0H1065.1V514.9H1060.2ZM1065.1 505.0H1070.1V514.9H1065.1ZM1070.1 505.0H1075.0V514.9H1070.1ZM1075.0 505.0H1080.0V514.9H1075.0ZM1080.0 505.0H1084.9V514.9H1080.0ZM1084.9 505.0H1089.9V514.9H1084.9ZM1089.9 500.0H1094.8V514.9H1089.9ZM1094.8 485.2H1099.7V509.9H1094.8ZM1099.7 485.2H1104.7V509.9H1099.7ZM1104.7 485.2H1109.6V505.0H1104.7ZM1109.6 485.2H1114.6V505.0H1109.6ZM1114.6 495.1H1119.5V505.0H1114.6ZM1119.5 495.1H1124.5V514.9H1119.5ZM1124.5 495.1H1129.4V519.8H1124.5ZM1129.4 505.0H1134.3V519.8H1129.4ZM1134.3 505.0H1139.3V514.9H1134.3ZM1139.3 505.0H1144.2V519.8H1139.3ZM1144.2 509.9H1149.2V519.8H1144.2ZM1149.2 509.9H1154.1V519.8H1149.2ZM1154.1 509.9H1159.1V519.8H1154.1ZM1159.1 509.9H1164.0V524.8H1159.1ZM1164.0 505.0H1168.9V524.8H1164.0ZM1168.9 500.0H1173.9V519.8H1168.9ZM1173.9 500.0H1178.8V509.9H1173.9ZM1178.8 500.0H1183.8V509.9H1178.8ZM1183.8 500.0H1188.7V509.9H1183.8ZM1188.7 500.0H1193.7V514.9H1188.7ZM1193.7 505.0H1198.6V514.9H1193.7ZM1198.6 505.0H1203.6V519.8H1198.6ZM1203.6 500.0H1208.5V519.8H1203.6ZM1208.5 500.0H1213.4V509.9H1208.5ZM1213.4 500.0H1218.4V514.9H1213.4ZM1218.4 505.0H1223.3V514.9H1218.4ZM1223.3 505.0H1228.3V514.9H1223.3ZM1228.3 505.0H1233.2V514.9H1228.3ZM1233.2 505.0H1238.2V514.9H1233.2ZM1238.2 505.0H1243.1V514.9H1238.2ZM1243.1 505.0H1248.0V514.9H1243.1ZM1248.0 505.0H1253.0V514.9H1248.0ZM1253.0 505.0H1257.9V514.9H1253.0ZM1257.9 505.0H1262.9V514.9H1257.9ZM1262.9 505.0H1267.8V514.9H1262.9ZM1267.8 505.0H1272.8V514.9H1267.8ZM1272.8 505.0H1277.7V514.9H1272.8ZM1277.7 505.0H1282.6V514.9H1277.7ZM1282.6 505.0H1287.6V514.9H1282.6ZM1287.6 505.0H1292.5V514.9H1287.6ZM1292.5 505.0H1297.5V514.9H1292.5ZM1297.5 505.0H1302.4V514.9H1297.5ZM1302.4 505.0H1307.4V514.9H1302.4ZM1307.4 505.0H1312.3V514.9H1307.4ZM1312.3 505.0H1317.2V514.9H1312.3ZM1317.2 505.0H1322.2V514.9H1317.2ZM1322.2 505.0H1327.1V514.9H1322.2ZM1327.1 505.0H1332.1V514.9H1327.1ZM1332.1 505.0H1337.0V514.9H1332.1ZM1337.0 505.0H1342.0V514.9H1337.0ZM1342.0 505.0H1346.9V519.8H1342.0ZM1346.9 509.9H1351.9V559.4H1346.9ZM1351.9 514.9H1356.8V623.8H1351.9ZM1356.8 554.5H1361.7V742.5H1356.8ZM1361.7 618.8H1366.7V846.4H1361.7ZM1366.7 737.6H1371.6V915.7H1366.7ZM1371.6 841.5H1376.6V955.3H1371.6ZM1376.6 891.0H1381.5V955.3H1376.6ZM1381.5 792.0H1386.5V955.3H1381.5ZM1386.5 722.7H1391.4V895.9H1386.5ZM1391.4 668.3H1396.3V797.0H1391.4ZM1396.3 628.7H1401.3V727.7H1396.3ZM1401.3 604.0H1406.2V668.3H1401.3ZM1406.2 584.2H1411.2V633.7H1406.2ZM1411.2 569.3H1416.1V608.9H1411.2ZM1416.1 559.4H1421.1V589.1H1416.1ZM1421.1 549.5H1426.0V574.3H1421.1ZM1426.0 539.6H1430.9V564.4H1426.0ZM1430.9 534.7H1435.9V554.5H1430.9ZM1435.9 534.7H1440.8V549.5H1435.9ZM1440.8 539.6H1445.8V554.5H1440.8ZM1445.8 544.6H1450.7V559.4H1445.8ZM1450.7 549.5H1455.7V564.4H1450.7ZM1455.7 549.5H1460.6V589.1H1455.7ZM1460.6 559.4H1465.5V613.9H1460.6ZM1465.5 579.2H1470.5V613.9H1465.5ZM1470.5 569.3H1475.4V613.9H1470.5ZM1475.4 569.3H1480.4V673.2H1475.4ZM1480.4 584.2H1485.3V683.1H1480.4ZM1485.3 623.8H1490.3V683.1H1485.3ZM1490.3 623.8H1495.2V698.0H1490.3ZM1495.2 648.5H1500.1V737.6H1495.2ZM1500.1 693.0H1505.1V752.4H1500.1ZM1505.1 722.7H1510.0V752.4H1505.1ZM1510.0 579.2H1515.0V747.5H1510.0ZM1515.0 569.3H1519.9V727.7H1515.0ZM1519.9 569.3H1524.9V594.1H1519.9ZM1524.9 574.3H1529.8V608.9H1524.9ZM1529.8 594.1H1534.8V613.9H1529.8ZM1534.8 579.2H1539.7V613.9H1534.8ZM1539.7 574.3H1544.6V604.0H1539.7ZM1544.6 574.3H1549.6V584.2H1544.6ZM1549.6 574.3H1554.5V604.0H1549.6ZM1554.5 579.2H1559.5V633.7H1554.5ZM1559.5 599.0H1564.4V638.6H1559.5ZM1564.4 628.7H1569.4V638.6H1564.4ZM1569.4 628.7H1574.3V801.9H1569.4ZM1574.3 638.6H1579.2V821.7H1574.3ZM1579.2 792.0H1584.2V821.7H1579.2ZM1584.2 747.5H1589.1V811.8H1584.2ZM1589.1 658.4H1594.1V797.0H1589.1ZM1594.1 643.6H1599.0V752.4H1594.1ZM1599.0 643.6H1604.0V663.3H1599.0ZM1604.0 643.6H1608.9V678.2H1604.0ZM1608.9 653.4H1613.8V683.1H1608.9ZM1613.8 673.2H1618.8V683.1H1613.8ZM1618.8 673.2H1623.7V688.1H1618.8ZM1623.7 678.2H1628.7V688.1H1623.7ZM1628.7 678.2H1633.6V693.0H1628.7ZM1633.6 683.1H1638.6V702.9H1633.6ZM1638.6 693.0H1643.5V707.9H1638.6ZM1643.5 673.2H1648.4V707.9H1643.5ZM1648.4 668.3H1653.4V698.0H1648.4ZM1653.4 668.3H1658.3V678.2H1653.4ZM1658.3 663.3H1663.3V678.2H1658.3ZM1663.3 653.4H1668.2V673.2H1663.3ZM1668.2 653.4H1673.2V663.3H1668.2ZM1673.2 653.4H1678.1V673.2H1673.2ZM1678.1 658.4H1683.1V688.1H1678.1ZM1683.1 668.3H1688.0V702.9H1683.1ZM1688.0 683.1H1692.9V707.9H1688.0ZM1692.9 698.0H1697.9V712.8H1692.9ZM1697.9 702.9H1702.8V717.8H1697.9ZM1702.8 702.9H1707.8V717.8H1702.8ZM1707.8 702.9H1712.7V712.8H1707.8ZM1712.7 702.9H1717.7V722.7H1712.7ZM1717.7 702.9H1722.6V722.7H1717.7ZM1722.6 702.9H1727.5V722.7H1722.6ZM1727.5 702.9H1732.5V722.7H1727.5ZM1732.5 678.2H1737.4V722.7H1732.5ZM1737.4 673.2H1742.4V702.9H1737.4ZM1742.4 673.2H1747.3V722.7H1742.4ZM1747.3 688.1H1752.3V727.7H1747.3ZM1752.3 717.8H1757.2V727.7H1752.3ZM1757.2 712.8H1762.1V727.7H1757.2ZM1762.1 712.8H1767.1V732.6H1762.1ZM1767.1 712.8H1772.0V742.5H1767.1ZM1772.0 727.7H1777.0V742.5H1772.0ZM1777.0 727.7H1781.9V737.6H1777.0ZM1781.9 727.7H1786.9V737.6H1781.9ZM1786.9 727.7H1791.8V742.5H1786.9ZM1791.8 727.7H1796.7V742.5H1791.8ZM1796.7 727.7H1801.7V737.6H1796.7ZM1801.7 722.7H1806.6V737.6H1801.7ZM1806.6 717.8H1811.6V737.6H1806.6ZM1811.6 717.8H1816.5V767.3H1811.6ZM1816.5 732.6H1821.5V772.2H1816.5ZM1821.5 762.3H1826.4V777.2H1821.5ZM1826.4 762.3H1831.4V777.2H1826.4ZM1831.4 752.4H1836.3V767.3H1831.4ZM1836.3 752.4H1841.2V762.3H1836.3ZM1841.2 752.4H1846.2V762.3H1841.2ZM1846.2 752.4H1851.1V762.3H1846.2ZM1851.1 752.4H1856.1V767.3H1851.1ZM1856.1 757.4H1861.0V772.2H1856.1ZM1861.0 762.3H1866.0V782.1H1861.0ZM1866.0 767.3H1870.9V797.0H1866.0ZM1870.9 777.2H1875.8V801.9H1870.9ZM1875.8 792.0H1880.8V806.8H1875.8ZM1880.8 787.1H1885.7V806.8H1880.8ZM1885.7 782.1H1890.7V801.9H1885.7ZM1890.7 782.1H1895.6V801.9H1890.7ZM1895.6 782.1H1900.6V816.7H1895.6ZM1900.6 797.0H1905.5V836.5H1900.6ZM1905.5 811.8H1910.4V851.4H1905.5ZM1910.4 831.6H1915.4V866.2H1910.4ZM1915.4 846.4H1920.3V881.1H1915.4ZM1920.3 861.3H1925.3V886.0H1920.3ZM1925.3 876.1H1930.2V886.0H1925.3ZM1930.2 871.2H1935.2V886.0H1930.2ZM1935.2 871.2H1940.1V886.0H1935.2ZM1940.1 871.2H1945.0V881.1H1940.1ZM1945.0 876.1H1950.0V886.0H1945.0ZM1950.0 881.1H1954.9V895.9H1950.0ZM1954.9 881.1H1959.9V915.7H1954.9ZM1959.9 891.0H1964.8V930.6H1959.9ZM1964.8 910.8H1969.8V940.5H1964.8ZM1969.8 925.6H1974.7V940.5H1969.8ZM1974.7 920.7H1979.6V935.5H1974.7ZM1979.6 915.7H1984.6V930.6H1979.6ZM1984.6 915.7H1989.5V925.6H1984.6ZM1989.5 915.7H1994.5V940.5H1989.5ZM1994.5 920.7H1999.4V940.5H1994.5ZM1999.4 930.6H2004.4V940.5H1999.4ZM2004.4 925.6H2009.3V940.5H2004.4ZM2009.3 925.6H2014.3V935.5H2009.3ZM2014.3 925.6H2019.2V940.5H2014.3ZM2019.2 930.6H2024.1V940.5H2019.2ZM2024.1 930.6H2029.1V940.5H2024.1ZM2029.1 925.6H2034.0V940.5H2029.1ZM2034.0 925.6H2039.0V970.1H2034.0ZM2039.0 935.5H2043.9V985.0H2039.0ZM2043.9 965.2H2048.9V985.0H2043.9ZM2048.9 965.2H2053.8V980.0H2048.9ZM2053.8 960.2H2058.7V975.1H2053.8ZM2058.7 960.2H2058.8V970.1H2058.7Z"/>
<path fill="#f0f" d="M101.2 119.0H106.1V128.9H101.2ZM106.1 119.0H111.1V128.9H106.1ZM111.1 119.0H116.0V128.9H111.1ZM116.0 119.0H121.0V128.9H116.0ZM121.0 119.0H125.9V128.9H121.0ZM125.9 119.0H130.9V128.9H125.9ZM130.9 119.0H135.8V128.9H130.9ZM135.8 119.0H140.7V128.9H135.8ZM140.7 119.0H145.7V128.9H140.7ZM145.7 119.0H150.6V128.9H145.7ZM150.6 119.0H155.6V128.9H150.6ZM155.6 119.0H160.5V128.9H155.6ZM160.5 119.0H165.5V128.9H160.5ZM165.5 119.0H170.4V128.9H165.5ZM170.4 119.0H175.3V128.9H170.4ZM175.3 119.0H180.3V128.9H175.3ZM180.3 119.0H185.2V128.9H180.3ZM185.2 119.0H190.2V128.9H185.2ZM190.2 119.0H195.1V128.9H190.2ZM195.1 119.0H200.1V128.9H195.1ZM200.1 119.0H205.0V128.9H200.1ZM205.0 119.0H209.9V128.9H205.0ZM209.9 119.0H214.9V128.9H209.9ZM214.9 119.0H219.8V128.9H214.9ZM219.8 119.0H224.8V128.9H219.8ZM224.8 119.0H229.7V128.9H224.8ZM229.7 119.0H234.7V128.9H229.7ZM234.7 119.0H239.6V128.9H234.7ZM239.6 119.0H244.6V128.9H239.6ZM244.6 119.0H249.5V128.9H244.6ZM249.5 119.0H254.4V128.9H249.5ZM254.4 119.0H259.4V128.9H254.4ZM259.4 119.0H264.3V128.9H259.4ZM264.3 119.0H269.3V128.9H264.3ZM269.3 119.0H274.2V128.9H269.3ZM274.2 119.0H279.2V128.9H274.2ZM279.2 119.0H284.1V128.9H279.2ZM284.1 119.0H289.0V128.9H284.1ZM289.0 119.0H294.0V128.9H289.0ZM294.0 119.0H298.9V128.9H294.0ZM298.9 119.0H303.9V133.9H298.9ZM303.9 124.0H308.8V133.9H303.9ZM308.8 124.0H313.8V138.8H308.8ZM313.8 128.9H318.7V138.8H313.8ZM318.7 133.9H323.6V143.8H318.7ZM323.6 133.9H328.6V148.7H323.6ZM328.6 138.8H333.5V153.7H328.6ZM333.5 143.8H338.5V163.6H333.5ZM338.5 153.7H343.4V168.5H338.5ZM343.4 158.6H348.4V168.5H343.4ZM348.4 163.6H353.3V173.5H348.4ZM353.3 163.6H358.2V178.4H353.3ZM358.2 168.5H363.2V183.4H358.2ZM363.2 173.5H368.1V183.4H363.2ZM368.1 173.5H373.1V188.3H368.1ZM373.1 178.4H378.0V188.3H373.1ZM378.0 178.4H383.0V188.3H378.0ZM383.0 178.4H387.9V193.2H383.0ZM387.9 183.4H392.9V193.2H387.9ZM392.9 183.4H397.8V193.2H392.9ZM397.8 183.4H402.7V193.2H397.8ZM402.7 183.4H407.7V193.2H402.7ZM407.7 183.4H412.6V193.2H407.7ZM412.6 183.4H417.6V193.2H412.6ZM417.6 183.4H422.5V193.2H417.6ZM422.5 178.4H427.5V193.2H422.5ZM427.5 178.4H432.4V188.3H427.5ZM432.4 173.5H437.3V188.3H432.4ZM437.3 173.5H442.3V183.4H437.3ZM442.3 168.5H447.2V178.4H442.3ZM447.2 163.6H452.2V178.4H447.2ZM452.2 163.6H457.1V173.5H452.2ZM457.1 158.6H462.1V173.5H457.1ZM462.1 158.6H467.0V168.5H462.1ZM467.0 158.6H471.9V168.5H467.0ZM471.9 158.6H476.9V168.5H471.9ZM476.9 158.6H481.8V168.5H476.9ZM481.8 153.7H486.8V163.6H481.8ZM486.8 153.7H491.7V163.6H486.8ZM491.7 153.7H496.7V163.6H491.7ZM496.7 148.7H501.6V158.6H496.7ZM501.6 148.7H506.5V158.6H501.6ZM506.5 143.8H511.5V158.6H506.5ZM511.5 143.8H516.4V153.7H511.5ZM516.4 143.8H521.4V153.7H516.4ZM521.4 138.8H526.3V153.7H521.4ZM526.3 138.8H531.3V148.7H526.3ZM531.3 133.9H536.2V148.7H531.3ZM536.2 133.9H541.1V143.8H536.2ZM541.1 133.9H546.1V143.8H541.1ZM546.1 133.9H551.0V143.8H546.1ZM551.0 128.9H556.0V143.8H551.0ZM556.0 128.9H560.9V138.8H556.0ZM560.9 128.9H565.9V138.8H560.9ZM565.9 128.9H570.8V138.8H565.9ZM570.8 124.0H575.8V138.8H570.8ZM575.8 124.0H580.7V133.9H575.8ZM580.7 124.0H585.6V133.9H580.7ZM585.6 124.0H590.6V133.9H585.6ZM590.6 124.0H595.5V133.9H590.6ZM595.5 124.0H600.5V133.9H595.5ZM600.5 124.0H605.4V133.9H600.5ZM605.4 124.0H610.4V133.9H605.4ZM610.4 124.0H615.3V133.9H610.4ZM615.3 124.0H620.2V133.9H615.3ZM620.2 124.0H625.2V133.9H620.2ZM625.2 124.0H630.1V133.9H625.2ZM630.1 124.0H635.1V133.9H630.1ZM635.1 124.0H640.0V138.8H635.1ZM640.0 124.0H645.0V143.8H640.0ZM645.0 133.9H649.9V153.7H645.0ZM649.9 138.8H654.8V168.5H649.9ZM654.8 153.7H659.8V173.5H654.8ZM659.8 163.6H664.7V178.4H659.8ZM664.7 168.5H669.7V188.3H664.7ZM669.7 178.4H674.6V193.2H669.7ZM674.6 178.4H679.6V188.3H674.6ZM679.6 173.5H684.5V183.4H679.6ZM684.5 178.4H689.4V188.3H684.5ZM689.4 173.5H694.4V188.3H689.4ZM694.4 168.5H699.3V183.4H694.4ZM699.3 163.6H704.3V178.4H699.3ZM704.3 168.5H709.2V178.4H704.3ZM709.2 163.6H714.2V178.4H709.2ZM714.2 163.6H719.1V173.5H714.2ZM719.1 153.7H724.1V173.5H719.1ZM724.1 143.8H729.0V168.5H724.1ZM729.0 138.8H733.9V158.6H729.0ZM733.9 133.9H738.9V148.7H733.9ZM738.9 128.9H743.8V143.8H738.9ZM743.8 124.0H748.8V138.8H743.8ZM748.8 124.0H753.7V133.9H748.8ZM753.7 124.0H758.7V133.9H753.7ZM758.7 119.0H763.6V133.9H758.7ZM763.6 119.0H768.5V128.9H763.6ZM768.5 119.0H773.5V128.9H768.5ZM773.5 119.0H778.4V128.9H773.5ZM778.4 119.0H783.4V128.9H778.4ZM783.4 119.0H788.3V128.9H783.4ZM788.3 119.0H793.3V128.9H788.3ZM793.3 119.0H798.2V128.9H793.3ZM798.2 119.0H803.1V128.9H798.2ZM803.1 119.0H808.1V128.9H803.1ZM808.1 119.0H813.0V128.9H808.1ZM813.0 119.0H818.0V128.9H813.0ZM818.0 119.0H822.9V128.9H818.0ZM822.9 119.0H827.9V128.9H822.9ZM827.9 119.0H832.8V128.9H827.9ZM832.8 119.0H837.7V128.9H832.8ZM837.7 119.0H842.7V128.9H837.7ZM842.7 119.0H847.6V128.9H842.7ZM847.6 119.0H852.6V128.9H847.6ZM852.6 119.0H857.5V128.9H852.6ZM857.5 119.0H862.5V128.9H857.5ZM862.5 119.0H867.4V128.9H862.5ZM867.4 119.0H872.4V128.9H867.4ZM872.4 119.0H877.3V128.9H872.4ZM877.3 119.0H882.2V128.9H877.3ZM882.2 114.1H887.2V128.9H882.2ZM887.2 114.1H892.1V124.0H887.2ZM892.1 114.1H897.1V124.0H892.1ZM897.1 114.1H902.0V124.0H897.1ZM902.0 114.1H907.0V124.0H902.0ZM907.0 114.1H911.9V124.0H907.0ZM911.9 114.1H916.8V124.0H911.9ZM916.8 114.1H921.8V124.0H916.8ZM921.8 114.1H926.7V124.0H921.8ZM926.7 114.1H931.7V124.0H926.7ZM931.7 114.1H936.6V124.0H931.7ZM936.6 114.1H941.6V128.9H936.6ZM941.6 114.1H946.5V128.9H941.6ZM946.5 114.1H951.4V128.9H946.5ZM951.4 114.1H956.4V128.9H951.4ZM956.4 114.1H961.3V124.0H956.4ZM961.3 114.1H966.3V128.9H961.3ZM966.3 114.1H971.2V128.9H966.3ZM971.2 114.1H976.2V128.9H971.2ZM976.2 114.1H981.1V124.0H976.2ZM981.1 114.1H986.0V124.0H981.1ZM986.0 114.1H991.0V124.0H986.0ZM991.0 114.1H995.9V128.9H991.0ZM995.9 119.0H1000.9V128.9H995.9ZM1000.9 119.0H1005.8V128.9H1000.9ZM1005.8 119.0H1010.8V133.9H1005.8ZM1010.8 124.0H1015.7V133.9H1010.8ZM1015.7 124.0H1020.6V133.9H1015.7ZM1020.6 119.0H1025.6V133.9H1020.6ZM1025.6 119.0H1030.5V133.9H1025.6ZM1030.5 124.0H1035.5V133.9H1030.5ZM1035.5 124.0H1040.4V133.9H1035.5ZM1040.4 119.0H1045.4V133.9H1040.4ZM1045.4 119.0H1050.3V128.9H1045.4ZM1050.3 119.0H1055.3V128.9H1050.3ZM1055.3 119.0H1060.2V128.9H1055.3ZM1060.2 119.0H1065.1V128.9H1060.2ZM1065.1 119.0H1070.1V128.9H1065.1ZM1070.1 119.0H1075.0V128.9H1070.1ZM1075.0 119.0H1080.0V128.9H1075.0ZM1080.0 119.0H1084.9V128.9H1080.0ZM1084.9 119.0H1089.9V133.9H1084.9ZM1089.9 119.0H1094.8V133.9H1089.9ZM1094.8 109.1H1099.7V133.9H1094.8ZM1099.7 104.2H1104.7V133.9H1099.7ZM1104.7 104.2H1109.6V119.0H1104.7ZM1109.6 109.1H1114.6V119.0H1109.6ZM1114.6 109.1H1119.5V119.0H1114.6ZM1119.5 109.1H1124.5V124.0H1119.5ZM1124.5 114.1H1129.4V128.9H1124.5ZM1129.4 119.0H1134.3V128.9H1129.4ZM1134.3 119.0H1139.3V128.9H1134.3ZM1139.3 119.0H1144.2V128.9H1139.3ZM1144.2 119.0H1149.2V128.9H1144.2ZM1149.2 119.0H1154.1V128.9H1149.2ZM1154.1 119.0H1159.1V133.9H1154.1ZM1159.1 124.0H1164.0V133.9H1159.1ZM1164.0 114.1H1168.9V133.9H1164.0ZM1168.9 114.1H1173.9V133.9H1168.9ZM1173.9 114.1H1178.8V124.0H1173.9ZM1178.8 114.1H1183.8V124.0H1178.8ZM1183.8 114.1H1188.7V124.0H1183.8ZM1188.7 114.1H1193.7V124.0H1188.7ZM1193.7 114.1H1198.6V133.9H1193.7ZM1198.6 114.1H1203.6V133.9H1198.6ZM1203.6 109.1H1208.5V133.9H1203.6ZM1208.5 109.1H1213.4V133.9H1208.5ZM1213.4 109.1H1218.4V124.0H1213.4ZM1218.4 114.1H1223.3V124.0H1218.4ZM1223.3 114.1H1228.3V124.0H1223.3ZM1228.3 114.1H1233.2V124.0H1228.3ZM1233.2 114.1H1238.2V124.0H1233.2ZM1238.2 114.1H1243.1V124.0H1238.2ZM1243.1 114.1H1248.0V124.0H1243.1ZM1248.0 114.1H1253.0V124.0H1248.0ZM1253.0 114.1H1257.9V124.0H1253.0ZM1257.9 114.1H1262.9V124.0H1257.9ZM1262.9 114.1H1267.8V128.9H1262.9ZM1267.8 114.1H1272.8V128.9H1267.8ZM1272.8 119.0H1277.7V128.9H1272.8ZM1277.7 119.0H1282.6V128.9H1277.7ZM1282.6 119.0H1287.6V128.9H1282.6ZM1287.6 119.0H1292.5V128.9H1287.6ZM1292.5 119.0H1297.5V128.9H1292.5ZM1297.5 119.0H1302.4V128.9H1297.5ZM1302.4 119.0H1307.4V128.9H1302.4ZM1307.4 119.0H1312.3V128.9H1307.4ZM1312.3 119.0H1317.2V128.9H1312.3ZM1317.2 119.0H1322.2V128.9H1317.2ZM1322.2 124.0H1327.1V133.9H1322.2ZM1327.1 124.0H1332.1V133.9H1327.1ZM1332.1 124.0H1337.0V138.8H1332.1ZM1337.0 128.9H1342.0V148.7H1337.0ZM1342.0 133.9H1346.9V168.5H1342.0ZM1346.9 143.8H1351.9V208.1H1346.9ZM1351.9 163.6H1356.8V287.3H1351.9ZM1356.8 203.1H1361.7V371.4H1356.8ZM1361.7 282.3H1366.7V445.6H1361.7ZM1366.7 366.4H1371.6V505.0H1366.7ZM1371.6 440.7H1376.6V529.7H1371.6ZM1376.6 495.1H1381.5V534.7H1376.6ZM1381.5 430.8H1386.5V534.7H1381.5ZM1386.5 351.6H1391.4V500.0H1386.5ZM1391.4 282.3H1396.3V430.8H1391.4ZM1396.3 227.9H1401.3V356.5H1396.3ZM1401.3 193.2H1406.2V287.3H1401.3ZM1406.2 173.5H1411.2V232.8H1406.2ZM1411.2 158.6H1416.1V198.2H1411.2ZM1416.1 148.7H1421.1V173.5H1416.1ZM1421.1 143.8H1426.0V158.6H1421.1ZM1426.0 143.8H1430.9V153.7H1426.0ZM1430.9 138.8H1435.9V153.7H1430.9ZM1435.9 138.8H1440.8V148.7H1435.9ZM1440.8 138.8H1445.8V148.7H1440.8ZM1445.8 138.8H1450.7V148.7H1445.8ZM1450.7 138.8H1455.7V158.6H1450.7ZM1455.7 143.8H1460.6V208.1H1455.7ZM1460.6 153.7H1465.5V222.9H1460.6ZM1465.5 178.4H1470.5V222.9H1465.5ZM1470.5 168.5H1475.4V208.1H1470.5ZM1475.4 168.5H1480.4V282.3H1475.4ZM1480.4 198.2H1485.3V307.1H1480.4ZM1485.3 237.8H1490.3V307.1H1485.3ZM1490.3 267.5H1495.2V361.5H1490.3ZM1495.2 292.2H1500.1V396.1H1495.2ZM1500.1 356.5H1505.1V411.0H1500.1ZM1505.1 237.8H1510.0V411.0H1505.1ZM1510.0 188.3H1515.0V406.0H1510.0ZM1515.0 178.4H1519.9V237.8H1515.0ZM1519.9 178.4H1524.9V203.1H1519.9ZM1524.9 178.4H1529.8V232.8H1524.9ZM1529.8 198.2H1534.8V232.8H1529.8ZM1534.8 173.5H1539.7V232.8H1534.8ZM1539.7 168.5H1544.6V222.9H1539.7ZM1544.6 158.6H1549.6V178.4H1544.6ZM1549.6 158.6H1554.5V203.1H1549.6ZM1554.5 168.5H1559.5V232.8H1554.5ZM1559.5 198.2H1564.4V237.8H1559.5ZM1564.4 227.9H1569.4V242.7H1564.4ZM1569.4 227.9H1574.3V396.1H1569.4ZM1574.3 237.8H1579.2V430.8H1574.3ZM1579.2 391.2H1584.2V430.8H1579.2ZM1584.2 386.2H1589.1V425.8H1584.2ZM1589.1 277.4H1594.1V420.9H1589.1ZM1594.1 252.6H1599.0V391.2H1594.1ZM1599.0 247.7H1604.0V282.3H1599.0ZM1604.0 247.7H1608.9V277.4H1604.0ZM1608.9 257.6H1613.8V277.4H1608.9ZM1613.8 227.9H1618.8V277.4H1613.8ZM1618.8 213.0H1623.7V267.5H1618.8ZM1623.7 203.1H1628.7V232.8H1623.7ZM1628.7 198.2H1633.6V218.0H1628.7ZM1633.6 198.2H1638.6V213.0H1633.6ZM1638.6 198.2H1643.5V222.9H1638.6ZM1643.5 193.2H1648.4V222.9H1643.5ZM1648.4 173.5H1653.4V218.0H1648.4ZM1653.4 163.6H1658.3V198.2H1653.4ZM1658.3 158.6H1663.3V178.4H1658.3ZM1663.3 158.6H1668.2V173.5H1663.3ZM1668.2 163.6H1673.2V178.4H1668.2ZM1673.2 168.5H1678.1V183.4H1673.2ZM1678.1 173.5H1683.1V183.4H1678.1ZM1683.1 173.5H1688.0V188.3H1683.1ZM1688.0 178.4H1692.9V188.3H1688.0ZM1692.9 173.5H1697.9V188.3H1692.9ZM1697.9 168.5H1702.8V183.4H1697.9ZM1702.8 168.5H1707.8V178.4H1702.8ZM1707.8 168.5H1712.7V178.4H1707.8ZM1712.7 168.5H1717.7V183.4H1712.7ZM1717.7 168.5H1722.6V193.2H1717.7ZM1722.6 178.4H1727.5V198.2H1722.6ZM1727.5 178.4H1732.5V198.2H1727.5ZM1732.5 168.5H1737.4V188.3H1732.5ZM1737.4 163.6H1742.4V183.4H1737.4ZM1742.4 158.6H1747.3V173.5H1742.4ZM1747.3 153.7H1752.3V168.5H1747.3ZM1752.3 148.7H1757.2V163.6H1752.3ZM1757.2 148.7H1762.1V158.6H1757.2ZM1762.1 148.7H1767.1V173.5H1762.1ZM1767.1 153.7H1772.0V178.4H1767.1ZM1772.0 163.6H1777.0V178.4H1772.0ZM1777.0 158.6H1781.9V173.5H1777.0ZM1781.9 158.6H1786.9V168.5H1781.9ZM1786.9 158.6H1791.8V173.5H1786.9ZM1791.8 163.6H1796.7V173.5H1791.8ZM1796.7 158.6H1801.7V173.5H1796.7ZM1801.7 158.6H1806.6V173.5H1801.7ZM1806.6 163.6H1811.6V198.2H1806.6ZM1811.6 168.5H1816.5V213.0H1811.6ZM1816.5 193.2H1821.5V218.0H1816.5ZM1821.5 183.4H1826.4V218.0H1821.5ZM1826.4 173.5H1831.4V208.1H1826.4ZM1831.4 168.5H1836.3V188.3H1831.4ZM1836.3 168.5H1841.2V178.4H1836.3ZM1841.2 168.5H1846.2V178.4H1841.2ZM1846.2 168.5H1851.1V178.4H1846.2ZM1851.1 168.5H1856.1V183.4H1851.1ZM1856.1 173.5H1861.0V198.2H1856.1ZM1861.0 178.4H1866.0V213.0H1861.0ZM1866.0 193.2H1870.9V227.9H1866.0ZM1870.9 208.1H1875.8V242.7H1870.9ZM1875.8 222.9H1880.8V242.7H1875.8ZM1880.8 218.0H1885.7V242.7H1880.8ZM1885.7 213.0H1890.7V232.8H1885.7ZM1890.7 213.0H1895.6V227.9H1890.7ZM1895.6 218.0H1900.6V237.8H1895.6ZM1900.6 222.9H1905.5V247.7H1900.6ZM1905.5 232.8H1910.4V272.4H1905.5ZM1910.4 247.7H1915.4V292.2H1910.4ZM1915.4 267.5H1920.3V317.0H1915.4ZM1920.3 287.3H1925.3V331.8H1920.3ZM1925.3 307.1H1930.2V331.8H1925.3ZM1930.2 292.2H1935.2V326.9H1930.2ZM1935.2 287.3H1940.1V312.0H1935.2ZM1940.1 287.3H1945.0V297.2H1940.1ZM1945.0 287.3H1950.0V297.2H1945.0ZM1950.0 287.3H1954.9V307.1H1950.0ZM1954.9 292.2H1959.9V331.8H1954.9ZM1959.9 302.1H1964.8V346.6H1959.9ZM1964.8 326.9H1969.8V351.6H1964.8ZM1969.8 321.9H1974.7V351.6H1969.8ZM1974.7 312.0H1979.6V341.7H1974.7ZM1979.6 307.1H1984.6V326.9H1979.6ZM1984.6 307.1H1989.5V317.0H1984.6ZM1989.5 302.1H1994.5V312.0H1989.5ZM1994.5 302.1H1999.4V312.0H1994.5ZM1999.4 302.1H2004.4V317.0H1999.4ZM2004.4 307.1H2009.3V317.0H2004.4ZM2009.3 307.1H2014.3V317.0H2009.3ZM2014.3 307.1H2019.2V317.0H2014.3ZM2019.2 307.1H2024.1V321.9H2019.2ZM2024.1 312.0H2029.1V321.9H2024.1ZM2029.1 307.1H2034.0V321.9H2029.1ZM2034.0 302.1H2039.0V317.0H2034.0ZM2039.0 297.2H2043.9V312.0H2039.0ZM2043.9 292.2H2048.9V307.1H2043.9ZM2048.9 292.2H2053.8V302.1H2048.9ZM2053.8 292.2H2058.7V302.1H2053.8ZM2058.7 292.2H2058.8V302.1H2058.7Z"/>
</g>
<g>
<text x="152" y="332" font-size="72" text-anchor="start"><tspan fill="#555">(</tspan>d<tspan fill="#555">)</tspan></text>
<text x="152" y="684" font-size="72" text-anchor="start" letter-spacing="2"><tspan fill="#555">(</tspan>c<tspan fill="#555">)</tspan></text>
<text x="152" y="1134" font-size="72" text-anchor="start"><tspan fill="#555">(</tspan>b<tspan fill="#555">)</tspan></text>
<text x="152" y="1426" font-size="72" text-anchor="start" letter-spacing="2"><tspan fill="#555">(</tspan>a<tspan fill="#555">)</tspan></text>
<text x="1902" y="216" font-size="70" text-anchor="start" letter-spacing="2">700</text>
<text x="1662" y="266" font-size="70" text-anchor="start" letter-spacing="-1.2">1024</text>
<text x="1014" y="473" font-size="70" text-anchor="start" letter-spacing="-1.2">1548</text>
<text x="1388.5" y="523" font-size="70" text-anchor="start" letter-spacing="-0.8">2158</text>
<text x="573" y="1097" font-size="70" text-anchor="start" letter-spacing="-1.3">2954</text>
<text x="1211" y="1226" font-size="70" text-anchor="start" letter-spacing="-1.2">1665</text>
<text x="1424" y="1211" font-size="70" text-anchor="start" letter-spacing="0.6">1426</text>
<text x="1573" y="1211" font-size="70" text-anchor="start" letter-spacing="-1.2">1287</text>
<text x="1722" y="1320" font-size="70" text-anchor="start" letter-spacing="1">1130</text>
<text x="1479" y="1409" font-size="70" text-anchor="start">1462</text>
<text x="1612" y="1443" font-size="70" text-anchor="start">1372</text>
<text x="1908" y="1443" font-size="70" text-anchor="start">806</text>
<text x="102.75" y="1725.5" font-size="80" text-anchor="middle" letter-spacing="3.5">4000</text>
<text x="396.15" y="1725.5" font-size="80" text-anchor="middle" letter-spacing="3.5">3500</text>
<text x="690.5" y="1725.5" font-size="80" text-anchor="middle" letter-spacing="3.5">3000</text>
<text x="980.75" y="1725.5" font-size="80" text-anchor="middle" letter-spacing="3.5">2500</text>
<text x="1273.75" y="1725.5" font-size="80" text-anchor="middle" letter-spacing="3.5">2000</text>
<text x="1570.75" y="1725.5" font-size="80" text-anchor="middle" letter-spacing="3.5">1500</text>
<text x="1860.35" y="1725.5" font-size="80" text-anchor="middle" letter-spacing="3.5">1000</text>
<text x="754" y="1865" font-size="90.3" text-anchor="start">Wavenumber <tspan fill="#444">(</tspan>cm<tspan font-size="62" dy="-37">-1</tspan><tspan dy="37" fill="#444">)</tspan></text>
</g>
</svg>
</body></html>
